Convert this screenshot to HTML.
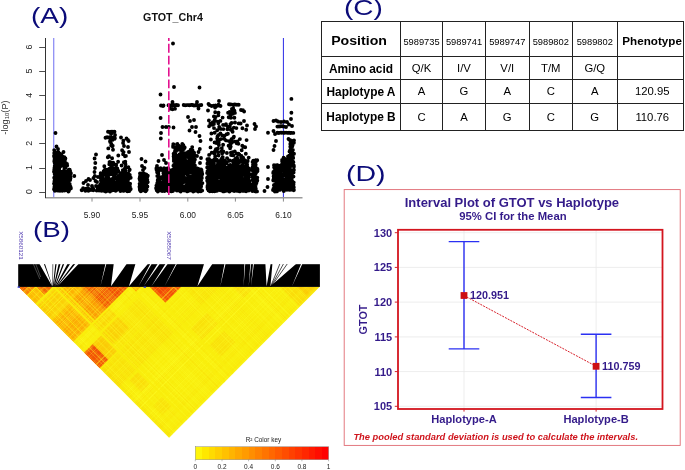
<!DOCTYPE html>
<html lang="en">
<head>
<meta charset="utf-8">
<title>GTOT Chr4 association, LD heatmap, haplotypes and interval plot</title>
<style>
html,body{margin:0;padding:0;background:#fff;}
body{width:685px;height:470px;position:relative;overflow:hidden;font-family:"Liberation Sans",sans-serif;color:#000;}
svg{position:absolute;left:0;top:0;}
svg text{font-family:"Liberation Sans",sans-serif;}
.lbl{position:absolute;font-family:"Liberation Sans",sans-serif;font-size:22.4px;line-height:22px;color:#0b0b78;white-space:nowrap;transform-origin:0 0;}
#lA{left:31px;top:4.8px;transform:scale(1.245,1);}
#lB{left:33.1px;top:218.8px;transform:scale(1.24,1);}
#lC{left:344.3px;top:-3px;transform:scale(1.25,1);}
#lD{left:345.5px;top:163px;transform:scale(1.275,1);}
table{position:absolute;left:321px;top:21px;border-collapse:collapse;table-layout:fixed;width:362px;}
td{border:1.1px solid #222;padding:0;text-align:center;vertical-align:middle;font-size:11.3px;white-space:nowrap;overflow:hidden;}
td.h{font-weight:bold;font-size:11.9px;}
td.n{font-size:9.3px;padding-top:6px;}
td span{display:inline-block;}
tr.r2 td.h{padding-top:2px;}
td:last-child{padding-left:4px;}
</style>
</head>
<body>
<svg width="685" height="470" viewBox="0 0 685 470">
<g id="panelA">
<path d="M45 197.8H302.5" fill="none" stroke="#9a9a9a" stroke-width="1.4"/>
<path d="M45.5 38V198" fill="none" stroke="#333" stroke-width="1"/>
<path d="M39.2 192.5H45.5M39.2 168.5H45.5M39.2 143.5H45.5M39.2 119.5H45.5M39.2 95.5H45.5M39.2 71.5H45.5M39.2 47.5H45.5" fill="none" stroke="#3a3a3a" stroke-width="0.9"/>
<path d="M92.0 197.8V201.6M140.0 197.8V201.6M187.8 197.8V201.6M235.4 197.8V201.6M283.4 197.8V201.6" fill="none" stroke="#8a8a8a" stroke-width="1"/>
<path d="M53.7 38V197" stroke="#8f8ff5" stroke-width="1.3"/>
<path d="M283.4 38V197" stroke="#2a2ae6" stroke-width="1"/>
<path d="M56.3 184h0M58.6 187.9h0M57.8 175.3h0M54.4 168.1h0M54.3 171.2h0M54.5 186.6h0M57 157.1h0M54.9 180.5h0M58.4 153.8h0M58 174.2h0M60.8 189.2h0M60 179.1h0M55 185.4h0M56.2 156.9h0M55.3 165.5h0M58.5 175.3h0M57.8 188.3h0M54.4 181.2h0M58.8 173.3h0M56.2 165.9h0M57.2 177.8h0M59.6 163.6h0M55.7 166.1h0M57.7 155.9h0M59.1 178.9h0M60.9 186.1h0M56.9 159.7h0M55.1 169.2h0M54.3 161.4h0M59.4 168.1h0M60.1 178.2h0M58.9 167h0M58.1 171.9h0M59.9 155.2h0M57.3 163.5h0M54.4 160.2h0M58.5 152.3h0M59.8 179.2h0M56.7 162.9h0M54.2 169.9h0M55.2 185.4h0M54.4 157.5h0M54.9 179.4h0M56.7 155.3h0M54.6 170.6h0M57.8 155.7h0M59.7 157.9h0M55.9 172.6h0M56.5 154.6h0M60.7 184.8h0M55.2 180.2h0M55.6 169.6h0M58.1 179.6h0M54 171.7h0M56.6 166.9h0M60.7 164.7h0M57.6 165.4h0M58.7 188.8h0M60.3 161.3h0M60.1 160.5h0M56.7 173.6h0M54.7 163.1h0M54.4 187.8h0M55.5 183.4h0M56.4 188.7h0M54 183.6h0M54.7 174.3h0M54.2 153.1h0M58.3 184.5h0M55.8 175.4h0M56.5 185.3h0M59.9 153.6h0M57.3 170.4h0M54.6 186.1h0M56.4 179.1h0M59.8 184.2h0M54.2 150.1h0M57.7 184.4h0M57.8 190h0M57.7 152.1h0M60 164.1h0M55.8 174.6h0M55.2 157.9h0M57.7 159.5h0M56.3 180.8h0M59.7 153.6h0M60 160.1h0M59.7 162.3h0M55.6 168.3h0M56.5 189.9h0M54.2 177.8h0M55.8 161.4h0M60.7 173.4h0M60.6 154.3h0M60.7 176.4h0M55.5 180.5h0M55.4 181.5h0M58.4 155.5h0M59.9 171.8h0M58.6 159.3h0M54.6 161.9h0M60.4 161.2h0M59.3 171.6h0M55.2 157.3h0M56.3 157.6h0M60.8 175.3h0M56.8 152.5h0M59.1 183.7h0M54.9 183.8h0M60.3 160.4h0M55 155.6h0M60.9 165.9h0M56.5 167.5h0M54.9 190.7h0M60.8 166.2h0M57.7 153.7h0M57 155.5h0M59.8 182.1h0M55.8 177.7h0M55.7 165.6h0M55.8 172.4h0M54.9 152.3h0M56.5 171.1h0M58.1 155.1h0M56.9 153.7h0M57.5 168.7h0M57.7 190.5h0M57.1 182.7h0M54 156h0M55.2 169.9h0M59.1 168.6h0M56.3 168.6h0M57.9 159.4h0M54.7 166.1h0M55.7 178.4h0M59.4 170.6h0M57.9 160.3h0M60.4 173.4h0M58.3 170.1h0M57.6 162.6h0M63.3 171.3h0M63.4 157.8h0M64.5 160.7h0M65.7 181.5h0M63.8 158h0M65.2 185.9h0M61.6 173.8h0M61.4 181.2h0M61.4 165.6h0M64.9 160.3h0M61.8 164.2h0M64.3 185.5h0M65.4 158.5h0M62.1 156.5h0M63 172.7h0M65.9 163.1h0M61.8 174.3h0M63.6 178.2h0M62 178.5h0M64.6 190.6h0M63.8 174.7h0M61.1 177.7h0M64.1 172.4h0M61.3 154.8h0M64.9 158h0M61.5 180.3h0M61.2 161.7h0M62.4 185.8h0M63.1 158.6h0M65.1 181.4h0M61.7 157.3h0M63.9 166h0M61.4 188.7h0M64.4 175.5h0M61.4 156.4h0M64.2 162.9h0M61.4 159.2h0M61.3 158.9h0M63.3 178.1h0M63.8 158.6h0M62.3 185.8h0M63.6 181.8h0M61.5 184.4h0M61.3 182.7h0M62.6 179.1h0M64.8 180.3h0M63.5 184.1h0M62.7 190.6h0M62.3 190.7h0M64.7 171.3h0M61.9 172.8h0M65.7 187.1h0M65.1 175.5h0M63.5 161.3h0M63 172.1h0M64.4 157.3h0M62.7 160.9h0M64.5 168.5h0M63 177.7h0M61.3 185.6h0M61.4 163.1h0M62.3 184.4h0M61.4 159.7h0M65.4 167.8h0M62.4 181.4h0M62.5 173.5h0M61.8 173.7h0M62.3 156.3h0M65.9 172h0M62.2 156.1h0M62.5 177.2h0M61 175.8h0M63.4 172.4h0M62 171.7h0M61 180.3h0M61.4 175.3h0M61.2 190.4h0M62.5 181.8h0M63.9 171.7h0M64.8 167.9h0M69.6 171.4h0M67.9 181.8h0M70.9 188.1h0M69.6 176.4h0M66.2 165.2h0M70.5 178.2h0M69.7 173h0M66.7 174.9h0M68.5 170.1h0M70 173.5h0M68.9 169.7h0M69.4 175h0M67.1 190.3h0M66.7 179.6h0M66.5 165.8h0M68.8 175.4h0M69.1 174.8h0M68.4 191.5h0M70 174.9h0M68.5 177.2h0M69.3 189.6h0M69.7 185.1h0M66.4 182.3h0M69.6 186.2h0M69.7 169.7h0M68.5 180.9h0M68.4 173.4h0M69.8 177.3h0M69.2 189.2h0M66.7 182.9h0M69.7 184h0M68.8 191.1h0M66.3 182.1h0M69.4 174.9h0M69.4 184h0M68.6 179h0M68.3 187.8h0M70.5 186.8h0M70.9 173.3h0M66.1 176h0M70.1 170.9h0M68.2 183.6h0M67 164h0M67.1 173.8h0M66.7 174.9h0M70.8 188.4h0M70.1 180h0M70.4 176.7h0M67.2 165.5h0M68.4 190.7h0M66 174.9h0M68.3 182.8h0M56.3 186.4h0M59.1 189.9h0M54 189.3h0M67.4 184.8h0M68.8 189h0M68.4 186h0M60 186.8h0M70 188.1h0M59.8 187h0M58.4 184.3h0M55.6 189.8h0M58.6 190.5h0M58 185.9h0M62.2 185.3h0M60 190.7h0M68.1 189.7h0M64.1 190.4h0M69.1 187.8h0M65.5 184.3h0M65.7 187.2h0M66 188.5h0M58.6 184.3h0M68.8 184.9h0M61.6 186.4h0M58.8 189.2h0M69.6 185.8h0M64.5 186.1h0M62.9 186.8h0M56.7 185.1h0M57.3 190.3h0M62 185.5h0M68.5 191h0M61.2 185h0M57.1 184.6h0M59.5 184.6h0M57.8 185.8h0M63.1 190.2h0M66 186.9h0M60.6 187.7h0M60 186.4h0M55 185.9h0M69.5 184.9h0M62.1 188.4h0M67.8 185.5h0M55.5 133h0M74.3 176h0M56.5 146.5h0M58 149h0M63.5 152h0M86.1 188.7h0M88.6 189.3h0M99.1 190.5h0M97.6 188.1h0M81.6 190.1h0M98 189.4h0M92.2 188h0M88.4 190.8h0M96.7 190.6h0M99.5 188.7h0M83.1 188.5h0M90.9 190h0M98.9 190.2h0M93.3 190.3h0M89.7 189.7h0M81.8 190.3h0M85.4 190.8h0M93.3 188.9h0M83.4 188.8h0M93.1 190.1h0M83.1 188.2h0M91 189.7h0M88.4 188.7h0M92.4 188h0M83.5 183h0M86 181h0M88 185h0M90 180h0M93.5 178h0M94.5 172h0M95 168h0M95.3 163h0M94.6 158.5h0M96 154.5h0M97 182h0M98 177h0M99 186h0M92 186h0M88.5 179h0M96 186h0M94.8 176h0M95.5 181h0M109.7 182.1h0M129.7 176.4h0M127.5 182.9h0M107.7 186.7h0M129.8 175h0M109.9 191.1h0M115.7 178.5h0M113.3 186.1h0M120.9 175.2h0M107.4 190.8h0M110.8 181.6h0M121.3 187.8h0M124.8 174.4h0M115.9 187.2h0M130.1 183.8h0M125.5 186.4h0M107.3 176.7h0M109.5 173.2h0M115.6 187.8h0M107.3 183.2h0M120.8 174.8h0M105 181.9h0M107 172h0M104.8 190.2h0M102.3 184.3h0M127.9 175.4h0M122.8 170.1h0M128.9 184.3h0M106.2 170.5h0M123.3 190.7h0M120.8 184.6h0M111.9 183.4h0M105.7 191.5h0M109 184.9h0M129.6 188.5h0M129.9 186.4h0M111.4 172h0M125.6 182.2h0M102 182.9h0M111.9 170h0M106.4 183.2h0M127.9 190.9h0M113 174.5h0M123.9 190.5h0M101.6 190.3h0M128.6 186.1h0M123.3 171.1h0M110.8 184.9h0M129.7 177.1h0M108.5 178.8h0M110.2 185.4h0M100.6 176h0M128.5 178.9h0M129.3 191h0M107.6 182.5h0M129.7 169.7h0M112.3 185.5h0M113.6 181.8h0M128.8 187.5h0M125 174.7h0M125.6 175.3h0M119 184.1h0M110.2 183.4h0M124.4 189.5h0M106.5 175.2h0M108 190.3h0M101.5 181.3h0M110.4 170h0M127.4 174.1h0M108.6 189.9h0M103.4 181.3h0M122.1 182.5h0M107.6 183.6h0M119.4 177.5h0M123.3 172.2h0M120.8 189.2h0M126.1 185.6h0M117.8 182.4h0M123 186.8h0M108 186.9h0M105.2 170.6h0M118.1 183.5h0M112.6 169.7h0M116 186.7h0M125.2 176.9h0M130.7 188.9h0M115 176.9h0M126.1 173.9h0M101.7 186h0M104.1 187.1h0M130.2 177.5h0M128.9 183.5h0M126.9 183.3h0M108.4 177.7h0M129.3 189h0M118.7 177.3h0M107.1 184h0M104.8 186.4h0M108.3 180.8h0M120.4 187.6h0M100.8 184.8h0M121.2 188h0M110 187h0M124.8 178.6h0M102.4 189.6h0M112.6 179h0M120 189.7h0M105.5 175h0M113 185.3h0M109.9 172.1h0M110 179.5h0M111.4 181.3h0M126.9 173.8h0M111.6 186.6h0M122.7 186.9h0M100.7 173.3h0M113.4 175.3h0M112.9 172.8h0M114.6 188.5h0M101 180.6h0M120 174.5h0M103.2 179.3h0M111.8 179.3h0M104.9 184.5h0M116.4 172h0M103.8 180.9h0M125 170h0M106.5 188.6h0M129.3 170.2h0M115.2 190.5h0M128.7 183.3h0M128.1 179.8h0M125.6 188h0M124.5 186h0M112.8 173.4h0M125.8 187.6h0M107.2 183.4h0M116.3 183.2h0M104.3 185.7h0M122.6 172.8h0M101.8 181.3h0M123.6 190.6h0M126.1 189.1h0M118.8 179h0M119.6 185.1h0M113.3 179.7h0M113.5 178.5h0M114.1 183.4h0M101.2 179.7h0M115.4 186.9h0M123.8 173.1h0M114.5 188.1h0M114.9 189.5h0M104.4 181.4h0M103.3 182.6h0M116.1 190.6h0M119.9 189.8h0M122.9 174.6h0M116.1 190.3h0M115.9 183.9h0M129.5 188.2h0M126.6 173.6h0M122.8 173.9h0M106.4 170.2h0M115.5 173.8h0M128.4 188.1h0M124.5 169.8h0M102.5 185h0M123.6 187.6h0M127.8 186.3h0M125.4 188.2h0M115.8 173.7h0M106.9 185.8h0M115.9 184.9h0M101.6 188h0M105.4 169.5h0M121.2 175.6h0M105.6 173h0M104 179.8h0M119.9 184.4h0M127.1 181.5h0M118.2 170.8h0M103.7 171.1h0M119.7 183.5h0M124.8 185.1h0M130.7 177.7h0M111.5 173.3h0M114 188.1h0M123.2 190.3h0M125.5 185.9h0M120 173h0M118.4 175.9h0M110 191.5h0M101.5 188.6h0M119.3 182.2h0M116.1 173.3h0M104.5 186h0M120.4 191.1h0M100.6 184h0M103.7 183.8h0M107.3 180.2h0M118.5 186.5h0M119.5 181.7h0M104.6 170h0M107.9 188.7h0M103.4 178.6h0M127.1 177.6h0M112.8 185.5h0M100.9 178.6h0M117.7 182.9h0M120.2 183.1h0M129.1 175.6h0M108.1 175.5h0M101.8 181.9h0M112.9 186.2h0M102.3 177.7h0M100.9 180.5h0M129.2 188.2h0M106.6 178.3h0M116 178.6h0M125.3 187.5h0M109.9 185h0M102 175.8h0M124.4 174.5h0M100.7 174.5h0M123.2 180.7h0M123.1 181.1h0M107.4 189.4h0M107.6 190.8h0M110.7 174.3h0M121.7 175.9h0M122.2 186h0M117.4 181h0M124.5 179h0M108.6 180h0M129.9 186.1h0M127.3 191.3h0M108.4 187.1h0M123.2 170.3h0M123.3 183.8h0M127.3 185.5h0M107.8 175.1h0M119.7 177.8h0M120.8 174.3h0M114.8 176.7h0M121.8 175.6h0M113.8 177.9h0M117.9 183.9h0M107 178.8h0M102.9 174.7h0M104.9 190.8h0M103.8 172.2h0M111 188h0M101.4 190.7h0M121.6 179.8h0M121.8 177.7h0M102.5 180.8h0M111.6 172.1h0M125.5 172.7h0M102.5 176h0M128.4 173.2h0M103.8 187h0M103.9 190.7h0M126.4 176.3h0M119.8 175.6h0M119.8 185.6h0M103.5 189.4h0M123.6 186.4h0M110.2 182.1h0M101.1 186.4h0M109.5 189h0M112 186.2h0M129.9 187.5h0M126.5 188.3h0M101.9 186.9h0M114.1 189.4h0M111.4 188.9h0M117.1 185.5h0M126.9 184.6h0M125.6 185.2h0M101 185.4h0M123.9 190.8h0M101.1 187.4h0M115.7 189.6h0M106.5 187.5h0M111.4 189.8h0M108.8 190.6h0M109.5 185.5h0M122 187.5h0M104.3 188.5h0M103.4 189.5h0M121.9 189.5h0M119.8 186.5h0M113 186.8h0M127.7 184.6h0M127.7 184.2h0M107.2 185.8h0M128 187.5h0M112.4 190.2h0M108 187.2h0M116.9 189.3h0M123.6 188.5h0M111.5 186.3h0M105.7 189.9h0M120.9 189.2h0M106.1 187.1h0M124.2 188.1h0M104.8 187.2h0M127.6 185.7h0M106.7 186.1h0M122.1 189.9h0M105.6 185.1h0M108.4 186.3h0M116.7 185.1h0M110.8 185.3h0M130.3 189.1h0M104.1 190.7h0M104 186.7h0M130.5 189.6h0M123 187h0M106.9 188.5h0M104.2 185.4h0M112.7 184.2h0M113 189.5h0M121.8 187.5h0M120 187.2h0M105.3 188.2h0M113.1 189.2h0M128.2 187h0M118.2 189.2h0M113.6 185.6h0M122.7 190.2h0M124.2 188.9h0M126.6 188.8h0M120.2 187.2h0M110.4 188.4h0M103.9 186.9h0M124.5 189h0M119.9 185.8h0M113.7 187.2h0M119.6 186.9h0M121.3 190.5h0M106.5 188.6h0M124.3 186.7h0M115.7 190.8h0M102.1 187.8h0M105.8 189.5h0M129.2 187.6h0M104 188h0M117.2 189h0M117.3 168.4h0M125.6 167.2h0M114.7 171.5h0M109.5 168.8h0M114.2 169.6h0M107.2 171.8h0M113.2 162.6h0M111.1 166h0M104.3 166.2h0M114.9 169h0M113.2 164.7h0M109.8 169.4h0M128.4 167.3h0M109.7 170h0M114.2 164.1h0M107.4 169.8h0M125 168.3h0M116.2 167.6h0M109.9 171.6h0M113.2 168.4h0M125.3 170.2h0M116.2 164.9h0M110.5 162.2h0M111.2 145.4h0M112.4 146.2h0M110.2 141.9h0M110.4 133.1h0M112.1 158.3h0M111.2 143.6h0M113 149.8h0M108.9 156.1h0M112.7 145.7h0M115 135h0M109.8 162h0M114.4 137.9h0M109.5 162.1h0M111.3 133.4h0M111.2 166.3h0M110.7 136.6h0M110.2 138h0M111.9 145.1h0M114.9 138.3h0M114.4 138.9h0M109.5 164.2h0M108.8 156.4h0M109.3 164.3h0M112.4 139.9h0M107.8 157.2h0M108.3 148.4h0M110.9 163.9h0M110 141.2h0M111 137.9h0M123.4 140.6h0M123.1 142.9h0M123.4 152.5h0M123.9 162.3h0M118.1 161.7h0M123.1 154.2h0M125.3 161.7h0M122.1 150.3h0M128.6 141h0M125 156.2h0M118.3 155.5h0M125.5 164.2h0M121.6 165.5h0M123.6 152.1h0M127.9 139.9h0M125.9 155.9h0M108 131.7h0M109.6 132h0M111.2 131.7h0M112.9 131.8h0M114.5 131.8h0M105.5 137.7h0M107.1 137.3h0M108.8 137.5h0M110.4 137.5h0M112 137.5h0M121 137.5h0M126.5 138.5h0M124 146h0M128 147h0M129 152h0M146.5 185.4h0M146.5 183.4h0M143.8 185.8h0M143.8 173.4h0M145.1 176.5h0M142.3 185h0M142 180.1h0M144.9 176.7h0M139.8 177.7h0M147 180.8h0M139.9 185.3h0M139.6 187.4h0M147.3 179.7h0M145.1 176.6h0M147.2 179.6h0M144.7 179.4h0M145.4 179.9h0M145.3 187h0M145.2 182.4h0M146 189.2h0M141 190.6h0M146.1 174.4h0M145.1 184h0M146.5 176.6h0M144.3 186.1h0M142.1 183h0M142.2 182.9h0M145 174.1h0M140 180.4h0M139.8 188.9h0M146.4 180.3h0M147.3 182.6h0M139.6 183.7h0M144.5 174h0M147.8 182.1h0M143 189.2h0M145 187h0M140.8 191.2h0M139.5 178.4h0M140.5 173.6h0M140.2 175.2h0M140.6 191.1h0M145.6 186.4h0M145.7 187.5h0M139.9 176.8h0M145.6 175.4h0M145.7 189.6h0M144.8 177.9h0M143.4 174.1h0M141.7 173.6h0M145.6 191.3h0M139.6 179h0M146.4 189.7h0M142.1 177.6h0M140.9 175.3h0M143.6 190.1h0M142.6 180.3h0M143.2 178.5h0M140.7 176.4h0M142.6 179.1h0M144.9 183.1h0M142.8 176.6h0M147.5 176.6h0M144.3 185.4h0M140 173.4h0M145.5 175.9h0M142.3 179.8h0M147.8 175.8h0M144.6 186.9h0M143.1 190.3h0M142.7 189.1h0M144.6 190.4h0M146.4 186.7h0M139.5 186.6h0M143.1 188.5h0M146.4 190.3h0M139.9 190h0M146.4 190.2h0M144.4 186.6h0M146.7 189.8h0M145.3 190.5h0M142.4 185.5h0M144.2 189.8h0M141.2 189.5h0M147.4 186.4h0M144.7 189.1h0M143.5 186.2h0M141.7 189.5h0M141.5 159h0M145.5 161.5h0M142 166h0M144.5 168h0M143 170h0M165.9 179.9h0M157.1 172.2h0M165.7 185.2h0M163.2 170.2h0M167.1 178.5h0M162 176.9h0M158.4 186.2h0M158.3 174.5h0M160.5 177.5h0M161 178.6h0M157.9 190.2h0M168.5 181.9h0M157.3 176h0M165.8 187.2h0M163.5 182.5h0M162.5 190.9h0M156.4 168.2h0M166.8 179.3h0M163.1 184.5h0M165.7 180.7h0M167.8 173h0M166.2 168.8h0M159.2 190.4h0M158.5 186.5h0M157 190h0M163 170.8h0M161.7 169.1h0M167.4 189.6h0M163.5 181.3h0M157.5 168.9h0M159.2 177.5h0M164 168.9h0M164.4 181.4h0M161.6 187.1h0M168.1 168.2h0M158.8 190.3h0M159.2 182.4h0M167.3 170h0M166.5 190.1h0M165.8 174.3h0M164.1 168.3h0M156.7 187.5h0M165.4 169.3h0M164.5 183.6h0M163.4 173.2h0M157.3 183h0M159.2 188h0M162 186.8h0M159 187.5h0M164.5 191.1h0M165 186.2h0M156.5 169.5h0M158.8 169.4h0M166.8 170.4h0M157.7 180.2h0M157.2 169.5h0M166.5 176.1h0M161.7 182.7h0M166.3 179.5h0M163.9 187.5h0M158.8 189.8h0M164.9 177.7h0M157.8 170.8h0M159.3 181h0M157.9 184.3h0M166.5 182.8h0M158.1 179.2h0M160 170.1h0M157.4 168.5h0M156.7 170.2h0M164.4 185.8h0M162 183.9h0M159.2 186h0M160.6 168.2h0M168.5 169.6h0M157.2 183.9h0M167.2 189.8h0M165.1 183.8h0M168.2 191h0M166.1 182.6h0M157.8 191.5h0M166.4 178.3h0M158.3 180.4h0M167.4 185.6h0M163.1 187.6h0M158.3 172.9h0M164.9 186.1h0M157 189h0M163.6 179.1h0M159.4 185.9h0M163.7 174.3h0M166.1 177.1h0M158.5 189.6h0M165.2 181.1h0M165 189.9h0M166.1 182.8h0M166.5 170.9h0M162.2 191h0M167.4 179.5h0M166.9 184.4h0M158.2 190h0M160.4 186h0M160.5 188.6h0M156.1 188.1h0M161.3 188.1h0M157.4 189.3h0M165.8 190.2h0M159.9 189.3h0M160.6 189.5h0M156.7 190.2h0M167.4 188h0M162.2 188.2h0M162.4 185.1h0M167.6 186.3h0M158.2 185.6h0M159 189.9h0M156.4 185.6h0M164.4 186.2h0M156.2 188.6h0M162.9 188.1h0M164.4 185.6h0M166.4 189.3h0M156.5 185.7h0M161.9 188h0M159.4 185.7h0M160.9 185.8h0M163.1 190.2h0M157.8 188.4h0M160.5 94.5h0M161 105.5h0M163 106h0M160.6 118h0M162.5 127h0M166 127h0M161 133h0M160.8 138.5h0M162 155h0M158.5 161h0M164 160h0M163.5 105.5h0M166 163h0M157 166h0M194 187.4h0M196.7 169.4h0M182 181.2h0M197.1 178.8h0M182.3 169.3h0M195 183.2h0M177.1 183.2h0M183.6 168.4h0M195.9 170h0M196.3 171.4h0M170.8 179h0M201.1 169.5h0M177.4 181.2h0M190.2 182.6h0M186.8 189.7h0M183.5 179.3h0M169.7 188h0M201.5 173h0M200.4 176.3h0M196.1 170.6h0M198.6 190.6h0M190.5 184.9h0M191.7 184.7h0M187.2 169.7h0M189.8 185.3h0M186.4 180.9h0M200.9 184.4h0M179.2 176h0M173 177.2h0M201 179.1h0M178 180.2h0M186.9 187.7h0M173.2 188.2h0M178.8 181.6h0M178.7 185.4h0M171.9 178.3h0M197.1 176.8h0M188.1 175.9h0M175.7 174.5h0M184.4 178.3h0M189.5 180.1h0M179.4 185.5h0M176.4 179.1h0M181.8 177.4h0M169.4 182.8h0M197.9 185.6h0M187.6 179.6h0M178.5 168.3h0M178.9 173.1h0M174.3 189.8h0M198.2 180.8h0M171.1 182h0M183.7 174h0M172.7 185.9h0M201.1 173.9h0M174.2 183.2h0M180.8 175.3h0M189.6 171.4h0M196.5 179h0M193.7 173.8h0M194.4 180h0M195.3 174.6h0M199.6 188.3h0M198.2 191.5h0M194.7 177.4h0M185.7 168.8h0M188.2 181.3h0M195.3 170.9h0M189.3 182.2h0M184.2 180.4h0M193.2 184.2h0M182.1 178.1h0M181.9 183.6h0M195.4 171.4h0M185.7 180.7h0M175.2 184h0M173.9 177.6h0M188.5 189.3h0M199.8 183.5h0M197.3 171.6h0M201.1 186.4h0M183.3 170h0M169.4 190.3h0M187.9 179.4h0M199.8 173.1h0M187 168h0M186.3 179h0M192 182h0M181 177.2h0M180.8 169.2h0M191.7 178.8h0M172.3 182.3h0M182.4 178h0M188.2 170.7h0M201.3 179.7h0M183.7 176.5h0M202.4 183.1h0M186.8 172.1h0M174.7 183.7h0M201.8 171.9h0M186.2 188.7h0M199 175h0M196.5 168.2h0M198.8 181.2h0M174.2 184.3h0M186.1 179.3h0M175.3 186.9h0M190.1 177h0M180.8 168.1h0M190.3 190.4h0M182.8 172.8h0M179.3 175h0M169.1 184h0M197.2 177.4h0M191.4 186.6h0M185.7 178.2h0M177.9 176h0M186.8 168.1h0M188.2 181.5h0M173.1 187.5h0M194.4 188.8h0M172.4 187.2h0M186.5 172h0M189.5 172.4h0M171.1 191.2h0M194.8 183.5h0M193 182.8h0M174.7 184.9h0M172.3 170.2h0M188.5 182.9h0M184.1 182.1h0M170.8 170.5h0M188.5 168.9h0M183.7 176.6h0M177.4 190.4h0M200.2 171.3h0M179.5 170.3h0M196.3 184h0M189.2 168.9h0M185.6 169.1h0M177.1 182h0M193.1 186h0M179.4 170.8h0M185.2 172.7h0M177.2 187.1h0M181 186.8h0M201.5 184.3h0M187.8 188.6h0M186.9 182.1h0M182.5 189.8h0M173.1 171.9h0M180.8 185.4h0M175.4 184.5h0M176.9 190.6h0M191.3 183.1h0M174.2 174.6h0M172.1 184.8h0M197 188.3h0M183.9 171.7h0M196 187.5h0M180.8 174.3h0M181.6 168.9h0M176 169.1h0M185.9 185.8h0M184.2 188.2h0M192.7 185h0M199.1 177.4h0M181.3 185.4h0M189.4 186.2h0M198.2 188.4h0M186.2 178.4h0M178.1 173.1h0M181.9 175.8h0M188 183.8h0M182.1 189.3h0M174.9 171.4h0M179.8 175.6h0M172.7 177.9h0M181.1 179.4h0M178.9 189.8h0M179.4 185.8h0M173.2 174.4h0M178.5 181.6h0M199.4 173.1h0M198.6 171.1h0M173.4 184.6h0M170 175.2h0M191.2 182.9h0M182.8 175.7h0M192.4 185.3h0M197.4 182.8h0M190.1 186.9h0M172.9 170h0M193.6 174.5h0M170.4 190.5h0M174.4 186.5h0M179.2 182.2h0M170.3 183.8h0M190.4 187h0M197.1 177.8h0M193 185.2h0M183.6 175.1h0M180.7 191.6h0M196.9 173h0M178.6 190.4h0M197.6 176.9h0M170.6 185.4h0M172.7 172.7h0M176 169.9h0M194.1 189.3h0M192.3 181.9h0M194 171.9h0M178.4 189.2h0M200.7 181.2h0M200.2 175h0M193.7 171.8h0M190 180.5h0M170.8 174.8h0M183.3 179.1h0M200.1 188.3h0M194.5 190.4h0M192.5 172.4h0M177.8 178.3h0M201.5 176.2h0M187.2 185.3h0M171 182.7h0M182.8 186.5h0M179.4 188h0M192.7 175.5h0M177 185.5h0M186.3 180.7h0M200.4 182.9h0M179 170.6h0M173.8 177.9h0M180.2 172.2h0M187.4 173.4h0M174.7 175.5h0M189.1 180.3h0M194.7 171.8h0M172.8 184.3h0M181.1 186.3h0M171 184.5h0M175.6 174.7h0M184 188.6h0M179.9 180.1h0M181.2 187.3h0M171.4 191.3h0M202.2 173.6h0M171.8 174.4h0M201.8 177.9h0M172.6 179.6h0M183.5 186.7h0M187.2 191.4h0M199.8 176.1h0M190 169.5h0M190.9 185.2h0M177.2 188h0M169.9 173.1h0M197.1 184.2h0M175.2 176.2h0M197.3 169.6h0M174.6 172.9h0M196.8 173.8h0M179.9 186.9h0M196.6 183.6h0M181.3 178.2h0M181.4 171.8h0M177 190.5h0M188 176.4h0M196.5 174.7h0M199.3 169.2h0M185.6 179.4h0M174.3 184.1h0M188.5 189.5h0M192 187.4h0M183.8 168.7h0M172 190.5h0M183.7 186.7h0M193.2 191.5h0M197.2 171.3h0M195.4 181.1h0M178.5 175.7h0M186.2 181.2h0M180.3 180.8h0M191.3 171.9h0M199.3 187.4h0M178.9 180.7h0M187.9 182.9h0M175.5 189.3h0M179.8 180.3h0M201.5 170.1h0M198 168.6h0M201.2 176.6h0M196.2 190h0M191.7 176.9h0M179 177.7h0M200.9 179.8h0M190.7 184.1h0M180.5 170.6h0M169.9 186.8h0M191.7 180.6h0M171.9 175.7h0M181.5 177.5h0M182.9 178.7h0M187.9 181.8h0M172.8 187h0M198.8 178.3h0M172.8 171.1h0M177.5 189.1h0M186.8 185.2h0M185.4 178.1h0M176.6 177.7h0M172.8 179.1h0M188.7 189.5h0M182.7 189.6h0M183.7 171.1h0M187.4 174.4h0M194.4 188.6h0M202.2 174.3h0M172.4 171.8h0M182.1 187.2h0M201.2 177.9h0M195 188h0M195 190h0M176.9 182.4h0M169.5 177.2h0M176.1 184.1h0M192.7 181.1h0M198.8 176.6h0M198.2 177.9h0M199.7 170.9h0M174.6 173.7h0M180.4 173.3h0M191.8 171.9h0M173.1 182.4h0M193.7 169.2h0M193.2 190.4h0M189.2 189h0M187.4 172.4h0M172.8 169.7h0M191.6 185.2h0M175.5 180.6h0M197.1 177.5h0M172.8 191h0M172.7 172.5h0M175.2 178.1h0M178.7 175.1h0M181.8 187.8h0M198.3 178.5h0M192.1 172.3h0M200.8 191.2h0M180.5 187.7h0M185.8 170.9h0M195.8 190.6h0M175.1 172.1h0M191.8 181.9h0M184.9 187.5h0M197.3 181.9h0M198.2 176.8h0M171.5 183.4h0M176.2 170.4h0M188.7 190.4h0M174.7 182.6h0M184.7 177.6h0M182 182.8h0M169.2 177.6h0M180.2 191h0M184.4 168.3h0M170.5 187.8h0M191.5 184.7h0M178.2 179.4h0M177.8 177.8h0M186.7 169h0M202.2 190.6h0M187.8 173.2h0M198.2 173.1h0M190.2 176.3h0M181.2 184.5h0M195.6 170.9h0M200.4 175.2h0M177.1 149.9h0M183 156.3h0M181.6 160.5h0M180.4 160.2h0M173.8 160.9h0M177.4 143.9h0M179.5 160.9h0M176.3 163.6h0M177.7 165.5h0M173.1 146.9h0M179.1 158.9h0M180.7 162.3h0M175.3 167.6h0M177.1 161.3h0M182.8 155.1h0M185.7 161.4h0M185.4 156.2h0M174.1 164.8h0M180.8 146.8h0M177.8 149.3h0M178.8 148.5h0M173.9 157.5h0M185.1 163h0M176.5 168.5h0M175.2 163.2h0M182.5 163.4h0M178.4 164.1h0M181.1 148.9h0M181.7 164.1h0M182.9 144.8h0M181.1 167.2h0M183.9 149h0M177.6 165.5h0M175.5 157.4h0M184.8 155.2h0M185.5 164.3h0M177.4 149.9h0M181.8 159h0M182.2 160.4h0M173.8 159h0M173.6 153.7h0M177.5 156.4h0M181.1 163.1h0M179.3 168.7h0M185.5 156.5h0M186.3 167.6h0M181.3 151.9h0M177.4 166.6h0M175.1 165.9h0M183.4 166.8h0M184 159.4h0M180.3 156.3h0M180.5 154.6h0M181.1 161.3h0M183 162.6h0M182.6 149.6h0M183.5 161.6h0M183.4 145.5h0M179.1 162.7h0M180.1 148.8h0M174.8 168.8h0M179.4 154.5h0M183.5 160.3h0M186.4 163.5h0M183.2 166.8h0M173.4 165.7h0M173.8 157h0M180.5 165h0M185.7 160.8h0M175 165.2h0M183 145.9h0M175.2 168.4h0M183.5 163.2h0M186.3 157h0M181.6 160.6h0M183.8 158.4h0M177.4 146.1h0M174.5 152.6h0M173.9 153.6h0M178.4 147.8h0M173.8 155.5h0M178.5 146.7h0M185.8 154.8h0M176 163.3h0M176.5 158.7h0M176.1 164.4h0M183.2 153.2h0M177 144.2h0M175.9 156.3h0M175.1 150.4h0M184.7 163.2h0M183.1 148.6h0M176.8 160.9h0M179.6 149.5h0M175.2 154.3h0M181.1 158.6h0M180.8 149.2h0M175.8 149.4h0M177.9 149.2h0M184.7 165.1h0M184.7 147.5h0M177 168.4h0M174.5 147.3h0M173.1 145.9h0M175 153.1h0M174.3 165.2h0M182.2 166.7h0M177.6 145.6h0M182.7 146.6h0M186.2 168.2h0M176.2 150.9h0M182.3 168h0M179.8 164h0M178.8 166.5h0M173.3 144.1h0M177.3 146.8h0M174.6 158.3h0M174.8 159.7h0M175.4 154.2h0M175 153.1h0M179.8 166.6h0M177.8 156.4h0M185.4 161.3h0M175.9 147.5h0M184.9 153.3h0M176.7 164.7h0M176.6 167.4h0M173.6 156.5h0M178.5 155.5h0M177.9 168.7h0M182.3 152.4h0M180.3 157.1h0M182.3 144h0M184.8 153.6h0M178.4 161.2h0M178.7 145.7h0M178.2 159.4h0M178.5 165.5h0M186.5 168.9h0M181.2 147.3h0M189.5 158h0M190.5 164.4h0M189.1 166.8h0M194.2 154.8h0M194.8 168.1h0M193.1 162.3h0M192.7 157.2h0M190 151.3h0M187.5 152.6h0M194.3 159.8h0M192.2 147.1h0M189.4 157.6h0M193.4 161.5h0M193.2 161h0M191.7 155.7h0M192.9 162.2h0M192.5 157.2h0M189.3 157.8h0M189.6 152.6h0M191.3 153.9h0M191.7 158.7h0M189.3 166.4h0M194.9 159.4h0M191.7 157.6h0M194 164.6h0M188.9 153.3h0M191.2 155.7h0M194.1 152.7h0M194.4 168.2h0M190.6 153.1h0M194 166.7h0M188.7 164.1h0M188.3 161.7h0M193.9 159.3h0M191.1 167.2h0M190.7 149.7h0M193.1 159.7h0M191.3 152.2h0M193.6 166.1h0M192.9 161.3h0M191.7 163.9h0M190.5 162.6h0M190.5 168.7h0M189.1 158.4h0M188 165.2h0M193.2 163.4h0M190.1 164.6h0M194.2 167.3h0M192.6 150.4h0M189.1 161.1h0M193.8 157.4h0M190.5 168.2h0M191 161.5h0M193.2 163h0M190.8 156.3h0M194 162.5h0M190.6 157.9h0M194.9 165.5h0M195.3 155.6h0M190.5 156.4h0M190.1 167.7h0M193.5 161.6h0M191.7 158.2h0M194.7 155.3h0M187.7 156.1h0M191.2 159.4h0M194.2 161.5h0M191.3 150.4h0M191 159h0M191.6 151.2h0M192.9 153.3h0M190.7 168.2h0M192.9 157.4h0M193.7 154.2h0M188.4 164.6h0M188.1 151.9h0M173.2 183.7h0M193.4 187.5h0M171.7 188.4h0M192 186.9h0M171.7 188.5h0M183 187.7h0M200.9 189.5h0M197 184.2h0M180.4 187.1h0M170.2 190.9h0M178.5 185.1h0M179.7 185h0M196.6 187.4h0M185.8 186.4h0M171.6 185.4h0M196.9 189.4h0M196.6 185.1h0M176.3 183.4h0M186.6 186h0M184.4 186.9h0M188.1 185.9h0M194.8 184.6h0M198.5 187.4h0M171.6 185.5h0M186.5 186.3h0M187.5 185.6h0M178.5 189.4h0M179 188.7h0M194.9 187.7h0M184.1 190.5h0M183.8 190h0M171.8 186.5h0M189.8 183.4h0M196.7 183.6h0M188.5 184.4h0M198.6 187.5h0M194.8 187h0M190.9 188.4h0M179.1 184.7h0M196 184.2h0M198.5 184.7h0M173.1 183.8h0M194.3 190.6h0M182.9 188.3h0M178 190.2h0M191.3 184.2h0M171.8 188.6h0M171.3 189.7h0M179.1 184.9h0M188 185.5h0M187.4 184.2h0M198.3 185.6h0M196.1 184.2h0M194.8 190.8h0M182.1 183.3h0M181.8 188.1h0M176.9 187.4h0M172.9 186.7h0M192.6 186.4h0M191 183.9h0M195.7 184h0M198.6 191h0M199.1 187.2h0M179 185.8h0M193.3 187h0M198.8 183.7h0M185 189.9h0M188.5 187.3h0M172.7 184.1h0M178.4 190.1h0M196.2 184.8h0M198.7 183.3h0M188.6 190.7h0M180.7 190.6h0M190.4 183.4h0M180.3 186.6h0M177.7 188.9h0M175.5 189.3h0M179.2 183.6h0M187.3 183.8h0M168.5 105.2h0M169.9 105.4h0M171.2 105.3h0M172.6 105.2h0M173.9 104.9h0M175.3 105.2h0M176.6 105h0M178 105.3h0M183.7 105h0M185.2 105.2h0M186.6 105.1h0M188.1 105.1h0M189.6 105.3h0M191 105h0M192.5 105h0M194 105.5h0M195.4 105.1h0M196.9 105.4h0M198.4 105.4h0M199.8 105.2h0M201.3 105h0M170 108.8h0M172.5 109.2h0M175 108.8h0M173 43.5h0M174 87h0M199.5 87.5h0M172.5 102h0M197 102h0M198.5 108.5h0M168.8 127h0M173.5 127.5h0M188 117h0M190 121h0M194 120h0M192 127h0M196 127h0M189.5 130.5h0M195.5 132h0M199.5 136h0M200.5 141h0M199.8 149h0M198.5 152h0M197 156h0M201 158h0M200 163h0M228.1 179.7h0M212 181.1h0M214 179.7h0M228.5 183.3h0M215.4 182.5h0M215.6 188.6h0M217.2 172.6h0M228.3 172.3h0M207.6 171.2h0M227.8 174.3h0M231.2 176.4h0M216.7 175.2h0M213.5 185.5h0M208.3 182.7h0M229 184.9h0M244.8 189.5h0M231.6 186.2h0M232.3 174.5h0M237.2 190.1h0M217.4 178.3h0M248.8 190.6h0M233.3 176.4h0M241.6 183.8h0M241.4 181.2h0M246.1 191.3h0M247 182.3h0M224.3 189.5h0M217.4 175.5h0M235.8 188h0M221.6 188.3h0M215.4 186.5h0M221.1 170.5h0M249.4 174.3h0M227.4 180.5h0M240.1 171.9h0M238.9 177.5h0M215.5 177.8h0M242.9 174.4h0M210.9 175.8h0M221.8 187.8h0M248 176.8h0M238.7 188.4h0M242.2 171.3h0M245.5 175.3h0M242.4 174.1h0M232.1 181.8h0M242.1 174.4h0M244 184.7h0M247.8 179.7h0M247.2 188.8h0M248.2 174.4h0M217.7 173.3h0M216.9 187h0M226.5 186.1h0M227.9 171.9h0M236.1 176h0M223.7 174.5h0M240.7 176.6h0M247 173.6h0M224.3 189.5h0M234.7 173.4h0M221.4 178.4h0M242.5 174.3h0M207.2 180.7h0M207.7 188.9h0M241.5 182.2h0M232.7 181.3h0M221.3 186.6h0M222 173.2h0M233.3 184.9h0M210.7 185.4h0M236.8 181.7h0M235.1 174h0M212.1 176.6h0M208.8 173.7h0M214.8 185.3h0M247.7 183.4h0M216.5 172.3h0M232.9 172.2h0M223.8 180.4h0M247.6 180.3h0M249 187.2h0M242.3 187.8h0M229.4 191.6h0M214.5 171.1h0M226.3 173.9h0M217.7 183.6h0M211.3 179.3h0M243.6 180.1h0M223 171.5h0M245 176.9h0M210.2 177.8h0M225.9 170.9h0M222.4 177h0M233.9 183.1h0M229.2 176.7h0M245.6 180.5h0M222.5 170.5h0M209.4 173.4h0M236.1 179.2h0M226 175.1h0M244.9 175.6h0M238.9 190.7h0M220.8 188.3h0M247.5 172.2h0M213.1 178.6h0M231.5 190.4h0M223.7 175.2h0M234.3 185.1h0M239.4 184.9h0M230.1 182.1h0M248.6 177.3h0M241.2 176.7h0M223.2 170.8h0M237.2 176.4h0M218.8 187.8h0M231.4 173.6h0M240.7 183.7h0M212.9 180.1h0M244.3 187.8h0M238.4 187.6h0M220.3 190.3h0M219.6 182.9h0M248.1 170.8h0M215 184.5h0M247.1 187h0M220.6 181.7h0M211.6 185.6h0M223.7 182.9h0M248 185.4h0M215.7 171.9h0M226.1 173.4h0M234.1 174.6h0M220.4 188h0M239.2 181.1h0M230.7 176.8h0M239 185.3h0M222.4 171.7h0M229.5 185h0M233.8 185.6h0M239.8 190.6h0M242.1 179h0M222 171.2h0M218.3 186h0M210 179.4h0M239 176.7h0M224.5 174h0M211.7 184.6h0M234.4 170.7h0M233.9 176.4h0M239.9 182.7h0M247 175.3h0M221.5 182.7h0M241.2 183.6h0M214.9 172.6h0M229.6 180h0M235.4 172h0M212.7 183.9h0M209.8 182.3h0M228.3 173.1h0M235.4 178.8h0M224.2 178.9h0M218.6 173.2h0M240.5 173.3h0M213.4 176.8h0M239 180.4h0M245.2 172.1h0M238.6 173.7h0M234.6 172.5h0M212.6 176.1h0M236.9 178h0M218.7 189.9h0M232.6 173.6h0M218.6 186.6h0M216.5 189.3h0M235.7 170.5h0M241.1 183.4h0M236.7 189.8h0M242.6 184.2h0M207.1 177.7h0M212.9 185.3h0M209.5 181.6h0M230.6 174h0M208.7 173.6h0M211.7 186.4h0M233.8 183.8h0M221.1 179h0M216.3 174.3h0M215.9 173.3h0M241.4 179.6h0M208.3 174.6h0M208.2 180.3h0M225 190h0M233.8 175.7h0M231.9 182.6h0M228.8 178.5h0M216.6 172.7h0M249.3 174h0M247.9 184.1h0M248.9 189.8h0M227.3 188.4h0M226.3 176.6h0M237.1 181.4h0M221.5 187.1h0M224.1 185.1h0M215.3 175.5h0M228.9 181.7h0M215.4 176.1h0M215.4 185.5h0M230.8 176.2h0M248.4 175.2h0M247.3 171.6h0M237.7 175.8h0M209.7 186.8h0M207.6 172.8h0M237.7 177.7h0M218.2 183.5h0M214 177.6h0M249.1 184.6h0M208.9 187.5h0M222.1 172.1h0M241.2 181.4h0M211.3 189h0M213.5 174.6h0M227 170.2h0M245.7 174.2h0M227.2 173.7h0M212.5 189h0M230.9 180.3h0M215.9 185.8h0M207.9 171.9h0M237.2 171.1h0M248.7 181.8h0M238.1 182.9h0M241.5 173.3h0M212.7 191.3h0M216.1 178.6h0M223.1 191.4h0M242.3 174.4h0M226.7 190.5h0M244.8 179.7h0M210 184.2h0M233.5 172.4h0M227.6 177.5h0M215.7 186h0M245.5 182.9h0M211.4 178.5h0M212.4 186.9h0M226.4 178.6h0M234 176.1h0M225.7 189.9h0M237.8 190.3h0M227 182.6h0M235.6 175.9h0M217.2 177.3h0M236.4 181h0M213 171.9h0M232.5 190h0M217.1 170.3h0M216.7 182.7h0M240.5 173.6h0M233.9 175.3h0M208.6 189.3h0M248.5 174.1h0M208.6 190.4h0M217.2 171.4h0M216.3 176.8h0M246.5 177.5h0M246.1 185.5h0M213.5 191.1h0M239.2 189.1h0M248.4 176h0M214.9 174h0M213.9 180.2h0M211.5 174.4h0M244.8 171.7h0M207.1 173.1h0M230.6 173.7h0M228.4 177.9h0M232.3 174.1h0M210.3 190.2h0M230.2 184.9h0M223.9 191.4h0M238.7 191h0M242.3 173.9h0M226.5 188.7h0M234.6 186.8h0M225.2 188.9h0M248.5 179.4h0M222 189.3h0M238 173.1h0M243.1 189.1h0M222.6 184.7h0M239.4 188.1h0M232.8 170.4h0M239.7 191.4h0M210.2 188.9h0M236.4 178.3h0M229.1 181.4h0M224.3 178.1h0M234.6 171.7h0M238.1 174.2h0M245.8 173.4h0M237.5 190.8h0M235.9 173.1h0M225.3 172.5h0M214.6 171.2h0M225.8 176.1h0M217.7 184.7h0M221.8 184.2h0M211 181.6h0M248.7 177.2h0M246.6 174.9h0M242.6 170.1h0M239 185.3h0M217.6 182.3h0M207.9 186.2h0M244.7 171.6h0M221 174.7h0M239.9 172.3h0M240.8 179.7h0M211.5 173.6h0M220.3 177.7h0M222.6 179.6h0M248 187.8h0M229.6 177.3h0M229.9 171.3h0M224.3 171.8h0M236.3 170.7h0M210.8 186.6h0M219.2 171.9h0M207.6 185.6h0M237.4 170.2h0M214.5 181.7h0M236.2 176.4h0M238.7 175.1h0M217.6 185.7h0M208.2 176.4h0M215.9 185.6h0M248 177.4h0M232.1 177.1h0M232.4 176.3h0M219.9 190h0M209.8 191.2h0M222.4 188.2h0M211.8 180.6h0M248.2 176.5h0M218.6 174.8h0M214.6 189.2h0M219.9 182.4h0M236.3 181.6h0M238 189.3h0M246.6 183.8h0M242.4 190.8h0M242.2 186.3h0M243.3 174.1h0M235.5 185.2h0M207.4 187.1h0M245.5 187.9h0M235 178.6h0M235.1 187.4h0M213.1 189.2h0M248.8 182.9h0M234.7 178.9h0M216.5 190h0M207.6 173h0M212.5 170.8h0M222.5 175.7h0M212.9 174.4h0M217.7 183.3h0M229.2 188.9h0M217.6 174.2h0M219.1 183h0M239.5 186.4h0M215.2 186.5h0M223.3 183.3h0M234.3 181h0M244 190.3h0M235.2 173.4h0M217 190.8h0M225.6 188.8h0M226.5 176h0M211 188.8h0M227.4 187.5h0M216.8 181.7h0M212 189.9h0M222.3 181.1h0M246.8 179.3h0M210 186.4h0M238.6 179.1h0M244 170.8h0M243.5 188.9h0M247.1 179.9h0M217.2 187.6h0M243.7 186.6h0M210.5 185.5h0M246.3 181.3h0M238.1 189.8h0M226.3 184.3h0M215.7 177h0M222.4 188.7h0M248.8 180.8h0M214.6 191.3h0M234.8 180.1h0M208 181.1h0M238.5 179.6h0M216.9 180.4h0M232.7 177.2h0M213.2 174.1h0M247.2 175.4h0M243.4 183.2h0M245.4 187.3h0M216.6 178.3h0M245.3 189.6h0M216.2 190.7h0M225.7 188.3h0M215.1 175.2h0M231.8 171.2h0M224.1 176.6h0M207.5 171.1h0M216.9 180.9h0M228.7 171.1h0M227.9 170.2h0M233.4 186.6h0M242.4 186.9h0M249.5 181.3h0M216.6 170.8h0M220.7 182.4h0M221.6 176.9h0M208 183.1h0M213.9 173.5h0M207 178.1h0M218 181.4h0M230.9 176h0M212.9 186h0M212.1 170.8h0M213.3 188.3h0M229.2 178.7h0M244.7 190.2h0M217 187.6h0M231.9 181.4h0M224.4 172.3h0M235.1 172.9h0M247.7 185.4h0M247 182.4h0M209.2 171.8h0M211.4 191.1h0M219.3 185h0M248.1 172.7h0M224.9 179.8h0M243.1 174h0M234.8 180.1h0M212 186h0M235 178.6h0M241 172.1h0M247.9 187.1h0M210.2 172.1h0M231.2 187.3h0M236.4 185.7h0M217.1 183.3h0M229.3 160.8h0M210.1 162.4h0M233.5 165.2h0M235.6 158.6h0M207.4 163.7h0M235.8 160h0M234.5 168.4h0M247.7 161h0M216.9 165.9h0M247.7 168.4h0M224.4 160.4h0M245.3 168.4h0M238.2 167h0M235.2 159.3h0M212.4 168.4h0M216.1 167.4h0M208.5 169h0M224.3 166.3h0M210.3 164.5h0M247.1 164.4h0M222.1 160.2h0M225.6 169.1h0M227.5 170.7h0M235.7 168.5h0M222.7 157.1h0M239.6 162h0M234.3 162.2h0M237 157.6h0M215.3 159.5h0M219.8 167.7h0M241.9 162h0M243.1 157.7h0M232 168.9h0M207.6 162.7h0M237.8 167.7h0M210 170.9h0M214.4 160.3h0M207.2 167.5h0M218.3 163.5h0M249 170.7h0M211.9 160.8h0M248.2 168.9h0M221.3 163h0M220.6 165h0M227.4 167.4h0M209.3 169.9h0M213.9 169.6h0M233.5 162.5h0M218.2 162.7h0M238 167h0M227.9 168.2h0M246.5 165h0M209.2 168.9h0M236.4 165.3h0M237.5 168.1h0M240.9 160.5h0M211 164.8h0M215.1 160.2h0M241.2 160.2h0M216.8 169.9h0M235.2 162.3h0M212.9 168.5h0M231.8 169.9h0M233.9 167.8h0M218 166.5h0M229.7 160.5h0M208.3 160h0M216.4 167.2h0M234.2 161.5h0M233.1 160.7h0M215.7 166.5h0M235.2 167h0M213.7 167.7h0M239.8 162h0M237.4 158.7h0M240.8 167h0M220.4 160.8h0M209.4 163h0M210.8 170.5h0M228.8 168.7h0M246.6 161.6h0M226.6 168.5h0M212.1 165.3h0M229.2 165.5h0M237.4 164.2h0M240 169.8h0M210 166.4h0M227.5 167.4h0M235.4 167.6h0M220.5 164.2h0M237.3 160.8h0M222.8 164.6h0M246.4 161.1h0M233.3 169.8h0M226.4 163.4h0M218.8 170.6h0M248.7 157.6h0M212.5 165.4h0M233.3 167.5h0M209.9 162h0M239.8 166.2h0M210.6 166.7h0M211 160.8h0M209.2 167.1h0M239.6 169.5h0M211.5 170.2h0M214 163h0M242.4 168.4h0M214.4 159.2h0M225.1 167.4h0M212.2 168.2h0M248.3 169.4h0M218 163.2h0M244.9 160.3h0M227.1 158.1h0M232.7 167.9h0M226.8 161.9h0M238.2 169.5h0M215.2 156.4h0M211.5 162.4h0M221.4 167.2h0M217.8 166h0M249.1 168.7h0M243.3 166.2h0M214.3 159.5h0M221.5 168.1h0M224.8 162.3h0M243.7 162.7h0M207.4 159.2h0M232.8 161.2h0M247.5 167h0M243.1 158.5h0M218.3 167.2h0M222.9 166h0M223.1 169.5h0M216.7 159.6h0M224.4 164h0M244.7 161.8h0M217.4 160.8h0M241.2 157.4h0M237.9 162.1h0M241.6 167.3h0M234.9 165.3h0M242.7 168.9h0M229.9 166.3h0M241.9 165.8h0M242.9 157.9h0M244.4 169.2h0M246.9 162.7h0M235.8 160.9h0M209 158.9h0M230.3 165h0M221.4 158.9h0M240.2 160.8h0M216.1 166.3h0M217.6 169.9h0M220.9 170.6h0M240.9 168h0M210 170.2h0M238.5 168.8h0M226.9 186.8h0M240.9 190.7h0M220.7 188.4h0M244.7 187.3h0M244.9 189.1h0M220.8 190.1h0M231.5 184.7h0M232.1 189.8h0M229.3 187.4h0M225.1 190.2h0M235.3 185.5h0M222.9 186.5h0M247.3 188.9h0M213.1 190.4h0M209.4 188.1h0M225.7 189h0M225.6 184.6h0M229.5 189.7h0M240.3 186.5h0M217.1 189.2h0M240.9 185.5h0M244.2 190.9h0M225.8 186.7h0M237.1 190.5h0M216.3 186.1h0M221.5 189.1h0M215.7 187.8h0M228.5 188.7h0M213.9 190.7h0M249 187.9h0M240.6 185.3h0M245.3 187.9h0M239.1 190.1h0M222.8 190.5h0M216.5 184.2h0M228.6 190.3h0M244.9 190.7h0M228.9 190.5h0M231 185h0M233.9 189.6h0M225.4 188.2h0M218.6 185.9h0M225.2 187.6h0M227.2 184.6h0M208.2 186.4h0M237.4 189.2h0M217.7 185.8h0M229.2 185.2h0M232.7 190.3h0M216.3 188.1h0M237.6 189.2h0M237.2 189h0M219.2 189.9h0M245.9 184.4h0M246.7 187.1h0M211.5 184.5h0M240.7 188.7h0M213.8 187.2h0M234.2 191h0M221.8 189.4h0M218 185.4h0M214.6 186.9h0M233.3 186.1h0M214.6 185.5h0M211.5 185.4h0M220.9 187.5h0M215.5 187.4h0M226 190.8h0M227.9 190.6h0M227.3 185.4h0M232.3 185h0M214.9 184.5h0M236.8 190.8h0M224.5 186.5h0M225.4 186.5h0M236.3 186.7h0M214.2 190.1h0M231.5 184h0M242.8 189.1h0M222.5 188.4h0M246.2 129.7h0M226 125.1h0M231 141.2h0M238.5 153.8h0M214 128.1h0M243.3 146.8h0M232.5 141.8h0M222.1 153.6h0M230.8 129.7h0M215.6 117.1h0M245.2 147.2h0M209.1 126.2h0M227.9 133.8h0M223.1 151.4h0M222.5 135.4h0M246.6 140.1h0M227.8 126.6h0M224.1 138.8h0M240.6 123.5h0M223.4 129.1h0M223.1 152.2h0M230.4 124.1h0M221.8 148.1h0M214.6 142.4h0M208.9 120.5h0M210.5 147.4h0M214.1 122h0M210.4 123.6h0M238.4 143.7h0M245.8 153.7h0M230.9 152.6h0M211.7 152.7h0M215 142.6h0M217.9 148.5h0M215.9 149.3h0M218 142.9h0M209.4 105h0M211.7 106h0M217.5 140.5h0M217.5 136.4h0M218.5 112.6h0M218.3 135.3h0M212.8 122.1h0M209.1 154.9h0M213.9 116.4h0M218.4 115.3h0M226 140.4h0M215.2 112.3h0M217.8 121.6h0M218.8 142.1h0M220.9 139.1h0M218.5 104.8h0M211.4 133.5h0M219.2 126.9h0M220.4 120.9h0M213.9 124h0M223.3 151.5h0M214.7 132.7h0M218.3 123.3h0M218.6 139.6h0M223.1 144.7h0M217.2 130.3h0M223.1 124.9h0M217.2 138.5h0M212 124.7h0M214.7 153.9h0M224.5 135.6h0M214.8 119.8h0M215.1 150.9h0M218.9 145h0M218.5 155.5h0M210.9 139.5h0M214.6 116.9h0M222.2 135.4h0M220.7 128.9h0M222.6 117.6h0M218.3 152.3h0M216.3 143.1h0M220.4 133.4h0M221.6 151.1h0M213.9 152.5h0M215.1 107.6h0M234.4 117.7h0M231.9 109h0M237.4 141.5h0M230.4 116.6h0M233.2 108.2h0M227.4 129.2h0M233.4 137.7h0M230.9 117.7h0M226.9 153h0M241.5 155.9h0M228.6 145.8h0M236.7 143.2h0M226 124.3h0M236.5 153.4h0M231.7 142.7h0M234.4 110.7h0M233.3 155.4h0M232.6 131.7h0M233.9 136.8h0M231.6 123h0M234 104.8h0M242.4 128.3h0M241.7 150.3h0M238.7 104.8h0M229 141.1h0M235.1 141.6h0M228.1 112.8h0M242.9 110.2h0M234.9 112.9h0M231.9 129.5h0M232.6 152.3h0M236.4 128.1h0M234.8 151.4h0M230.6 114.7h0M239.3 154.5h0M230.5 143.9h0M230.1 148.3h0M229.8 126.5h0M242.3 145.7h0M239.9 139.1h0M233.9 127.6h0M230.7 146.6h0M244.1 111.5h0M231.5 139.2h0M229.6 111.9h0M232.4 110.3h0M228.7 117.2h0M235 122.5h0M226.7 134.2h0M231.4 111.6h0M237.3 153.9h0M231.1 155h0M237.9 154.2h0M238.7 123.4h0M230.2 104.5h0M232.8 113.8h0M229 104.3h0M231 104.4h0M233 104.6h0M235 104.5h0M237 104.8h0M213.5 105.6h0M215.5 105.4h0M217.5 105.8h0M208.5 104h0M208 110.5h0M219 101h0M220.5 106h0M244 121h0M247 125.5h0M241 110h0M255.5 173.4h0M256.7 169.6h0M254 171.5h0M253.7 160.9h0M253.3 160.8h0M252.4 191.1h0M255 184h0M254.8 187h0M256.6 169.6h0M255.8 162.1h0M257.5 169.3h0M255.9 191.5h0M252.3 176.9h0M257.3 180.5h0M255.1 191.2h0M254.3 162.8h0M255.2 165h0M252.1 184.1h0M253 164.8h0M252.6 161.9h0M253.5 163.4h0M254.8 180.2h0M257.3 177.6h0M255.8 188.8h0M256.6 160.5h0M252.6 167.3h0M253.5 185.9h0M254 169.8h0M257.2 160.2h0M257.5 171h0M255.6 185.5h0M256 173.1h0M254 162.9h0M253.4 186.2h0M252.9 185.9h0M255.2 165.7h0M252.9 174.6h0M255.2 172.8h0M254.3 173.3h0M252.1 189.2h0M254.3 183h0M256.2 182.8h0M256.5 182.8h0M252.5 175.4h0M254.1 179.8h0M256.2 183.4h0M255.7 164.7h0M254.5 174.6h0M257.1 171.5h0M253 188.7h0M252.5 179.9h0M252.5 170.2h0M254.3 180.6h0M254.8 161.8h0M253.3 185.7h0M253.7 180.1h0M257 168.5h0M254.4 185.3h0M252.2 186.8h0M256.7 170.2h0M252.9 170.9h0M252.3 174.5h0M253.8 187.5h0M256.1 168.2h0M254.8 185.3h0M255.7 176.7h0M255.6 187.9h0M257 191.4h0M253.2 177.8h0M253.1 188.1h0M255.8 160.2h0M253.8 182h0M254.5 124h0M256 126.5h0M255 129h0M268 132.8h0M268 167h0M268 179h0M267.5 187h0M264.5 191h0M279 184.7h0M276.6 172.6h0M276.9 186.6h0M273.6 176.2h0M281.9 166.9h0M273.9 177.3h0M277.4 185.5h0M279 177.5h0M280.3 182.8h0M281.4 169.5h0M277.3 187h0M277.4 187.4h0M279.2 172.4h0M278.2 165.6h0M273.4 171.9h0M280.2 187.9h0M275.9 189.7h0M278.2 171.7h0M276.1 172.4h0M276.3 172h0M275.5 165.5h0M276.9 191.4h0M273.8 171.7h0M280.8 173.9h0M274.4 168.1h0M279.5 187.8h0M276.4 173h0M273 190.1h0M276.2 168h0M282 182.1h0M281.2 170.2h0M280.8 175.1h0M281.7 173.7h0M281.5 175.7h0M274.8 176.9h0M277.3 181.6h0M276.4 177.1h0M278.3 184.7h0M275.5 177.3h0M277.5 179.4h0M279 185.8h0M277.8 183.3h0M279.9 172.2h0M280 176.9h0M275.2 166.8h0M277.6 180.6h0M275.6 179.9h0M279.4 169.4h0M277.3 171.5h0M274.9 178.6h0M276.2 182.4h0M276.2 171h0M279.6 185.1h0M275.1 170.2h0M278.9 172.9h0M278.7 172.5h0M275.5 189.5h0M276.2 190.4h0M281.7 176.7h0M279 165.8h0M280.2 184.5h0M276 188h0M280.2 171.4h0M277.4 180.7h0M275.4 177.7h0M279.4 167.5h0M280.6 168.2h0M277 179.4h0M275.8 165.6h0M274.7 186.6h0M275.5 166.9h0M280.7 181.8h0M280.7 167.6h0M276.8 185.6h0M280 180.6h0M274.1 167.3h0M277 180h0M278.4 183.8h0M273.2 180.2h0M276.4 191.1h0M276.3 170.8h0M276 172.8h0M278.6 185.7h0M273.2 172.9h0M278.5 182.8h0M274.8 168.5h0M281.2 184.4h0M278.3 175.4h0M275.9 190.3h0M275.9 173.7h0M278.4 177.1h0M274.1 185h0M275.8 179.5h0M276.3 167.4h0M274 165.3h0M275.2 168.5h0M275.2 175.1h0M276.4 190.2h0M280.2 169.6h0M275.4 170.4h0M277.3 165.3h0M273.5 180.5h0M275.1 174.2h0M280 168.8h0M277.9 180.3h0M280.2 188.1h0M275.3 171h0M277 165.2h0M273.8 178.3h0M274.9 191.5h0M273.8 188.5h0M276.3 179.1h0M277.6 182.9h0M279.3 176.9h0M281.8 186.2h0M277.6 177.5h0M276.3 168.3h0M274.9 167.9h0M276.2 181.6h0M278.5 175.7h0M284.3 187.7h0M289.6 174.8h0M282.9 168h0M286.3 177.7h0M284.6 160.5h0M284.7 175.1h0M289.7 175.1h0M285.2 184.4h0M287.3 164.7h0M285.6 175.1h0M283.9 162.9h0M285.7 160h0M285 163.9h0M282.2 183h0M289.7 162.3h0M287.4 170.8h0M285.8 182.9h0M283.4 168h0M287.6 180h0M287.2 185.2h0M286.9 183.7h0M286.1 178.3h0M286.4 185.4h0M285.9 167.4h0M283.1 179.6h0M287.4 169h0M286.9 160.8h0M286.6 181.7h0M285.5 160.2h0M286.5 162.1h0M284.9 173.9h0M289.8 156.9h0M287.2 186.4h0M286.9 189.8h0M289.5 151.6h0M287.8 179.6h0M288.8 183.1h0M288.6 169.2h0M282.1 161.2h0M285.5 160.2h0M287.5 169.4h0M288.9 182h0M289.2 176.2h0M282.2 178.9h0M282.5 188.4h0M287 185.8h0M283.3 180.1h0M284.2 158.4h0M289.2 155.6h0M289.9 171.8h0M288.4 178.9h0M289.4 157.6h0M287.9 181.2h0M282.7 159.6h0M286.4 167.2h0M288.9 184.5h0M287.6 172h0M288.3 171.9h0M283.6 157.8h0M284.2 164.1h0M288.6 180.1h0M287.6 174.6h0M283.8 182.6h0M289.6 174.8h0M286.1 171.4h0M282.2 165.4h0M288 156.5h0M284.9 182.7h0M284.8 164.1h0M287.3 174.3h0M286.2 184.6h0M289.3 170.8h0M286.1 161.2h0M283.6 165.3h0M284.8 161.4h0M282.8 180.8h0M287.1 171.5h0M285 169.2h0M283.7 174.8h0M282 164.1h0M284 161.4h0M286.4 167.5h0M287 185.6h0M288.2 178.4h0M288.9 159h0M287.4 159.1h0M285.5 165.6h0M289.6 182.4h0M282.8 176.1h0M286.1 184.8h0M283.8 160.5h0M285.1 185h0M283.5 170.2h0M283.5 173.6h0M286.3 173.5h0M286 159.5h0M282.1 160h0M283.6 189.7h0M288.1 167.6h0M286.3 182h0M288.2 177.9h0M287.8 181.2h0M286.6 165.8h0M285 172.7h0M282.5 168.7h0M287.5 184.4h0M286.4 162.9h0M282.8 162.2h0M289 188.8h0M284 187.8h0M284 187.7h0M285.9 180.8h0M284.4 173.6h0M285 162.1h0M287.8 186h0M283.8 191.1h0M284.6 186.7h0M287.6 160.3h0M290 181.4h0M282.3 165.2h0M291.6 141h0M291.6 170.5h0M290.3 140.2h0M292 163.8h0M291.7 148.2h0M293.3 162h0M290.7 165.5h0M293.6 165.5h0M292.6 157.9h0M291.8 157.2h0M291 158h0M293.5 184.5h0M291.5 143.2h0M293.9 189.9h0M292.5 154.5h0M293.4 162.3h0M290.5 171.1h0M292.9 150h0M290.8 154h0M292.6 153.3h0M290.1 163.7h0M291.3 156.1h0M291.3 181.2h0M292.7 171.9h0M293.2 170.8h0M292.2 146.4h0M290.5 149.9h0M290.3 140.8h0M290.1 150.2h0M291.5 178h0M291.6 160.7h0M291.7 181.6h0M292.1 171.1h0M293.9 166.7h0M291.7 175.2h0M293.9 170h0M292.6 145.3h0M291.6 148.8h0M291.1 182.5h0M290.2 163.4h0M293.5 176.6h0M291.8 148.4h0M291.1 179.7h0M292.1 164.5h0M293.8 142.4h0M291 157.9h0M291.7 188h0M291.8 141.6h0M291.2 156.6h0M292.8 185.7h0M293.7 182.5h0M291.2 150.6h0M290.1 167.1h0M290.5 162.1h0M290.1 179.8h0M290.9 184.4h0M290.4 177.1h0M292.1 180.7h0M293.3 165h0M291 174.4h0M293.4 187h0M293 183.3h0M293.8 165.4h0M292.4 143.9h0M290.4 185.7h0M292.8 156.6h0M292.9 172.4h0M292 177.6h0M291.7 172.2h0M292.3 171.2h0M291.1 154h0M290.3 146.7h0M292 175.1h0M290.5 160.4h0M292 150.4h0M291.5 165.2h0M293.6 172.6h0M293.9 142.7h0M294 140.4h0M291 146.1h0M292.4 176.6h0M294 153.7h0M293.2 158h0M290.3 143.9h0M276.7 185.8h0M285.9 185.4h0M282.7 189h0M275 188.6h0M275.2 187.3h0M286.6 188.8h0M273.9 185.3h0M293.2 186.7h0M281.9 186.6h0M287.6 189.2h0M286.7 186.8h0M285 187.6h0M276.9 190.6h0M293.3 189.4h0M293.8 187.3h0M290.6 185.7h0M288.6 189h0M292.7 189.8h0M291.5 185.9h0M289.5 187.3h0M279.6 186.6h0M289.8 189.9h0M290.7 188.7h0M276.6 185.1h0M284.9 185.5h0M280.1 184.7h0M276.3 189h0M277.7 189.9h0M279.9 189.9h0M279.4 185.9h0M281.3 184.1h0M282.1 186.7h0M273.3 190h0M280.9 184h0M293.2 185.6h0M278.3 184.2h0M275.1 189h0M285.2 187.5h0M278.2 186h0M293.4 186.6h0M293.8 190.2h0M275.6 189.9h0M273.4 189h0M290 188.9h0M277.4 132.8h0M278.8 133h0M280.3 132.6h0M281.7 132.8h0M283.2 132.7h0M284.6 132.7h0M286.1 132.6h0M287.5 132.9h0M289 132.8h0M290.4 133h0M291.9 132.9h0M293.3 132.9h0M277.4 126.6h0M279 126.5h0M280.7 126.3h0M282.4 126.2h0M284 126.6h0M291.4 98.9h0M291.4 112.7h0M291 119h0M273.5 121h0M276 120.5h0M278 121.5h0M281 122h0M284 121.5h0M287 122h0M289 124.5h0M273.5 131h0M275 134h0M274.5 146h0M273.5 150h0M286 127h0M292 126h0M288.5 139h0M291.5 143h0M276 141h0" fill="none" stroke="#000" stroke-width="3.9" stroke-linecap="round"/>
<path d="M168.8 38V197.6" stroke="#e3128f" stroke-width="1.6" stroke-dasharray="8.9 2.95" stroke-dashoffset="6"/>
<text x="173" y="20.6" text-anchor="middle" font-weight="bold" font-size="10.7" fill="#111">GTOT_Chr4</text>
<text transform="translate(32.2 191.6) rotate(-90)" text-anchor="middle" font-size="8.8" fill="#222">0</text>
<text transform="translate(32.2 167.5) rotate(-90)" text-anchor="middle" font-size="8.8" fill="#222">1</text>
<text transform="translate(32.2 143.4) rotate(-90)" text-anchor="middle" font-size="8.8" fill="#222">2</text>
<text transform="translate(32.2 119.3) rotate(-90)" text-anchor="middle" font-size="8.8" fill="#222">3</text>
<text transform="translate(32.2 95.2) rotate(-90)" text-anchor="middle" font-size="8.8" fill="#222">4</text>
<text transform="translate(32.2 71.1) rotate(-90)" text-anchor="middle" font-size="8.8" fill="#222">5</text>
<text transform="translate(32.2 47.0) rotate(-90)" text-anchor="middle" font-size="8.8" fill="#222">6</text>
<text x="92.0" y="217.6" text-anchor="middle" font-size="8.4" fill="#222">5.90</text>
<text x="140.0" y="217.6" text-anchor="middle" font-size="8.4" fill="#222">5.95</text>
<text x="187.8" y="217.6" text-anchor="middle" font-size="8.4" fill="#222">6.00</text>
<text x="235.4" y="217.6" text-anchor="middle" font-size="8.4" fill="#222">6.05</text>
<text x="283.4" y="217.6" text-anchor="middle" font-size="8.4" fill="#222">6.10</text>
<text transform="translate(7.6 117.5) rotate(-90)" text-anchor="middle" font-size="9.2" fill="#333">-log<tspan font-size="6" dy="1.6">10</tspan><tspan dy="-1.6">(P)</tspan></text>
</g>
<g id="panelB">
<defs><clipPath id="tri"><path d="M18.2 286.4H319.9L169.05 437.75Z"/></clipPath>
<linearGradient id="key" x1="0" x2="1" y1="0" y2="0">
<stop offset="0.000" stop-color="#fff50a"/><stop offset="0.050" stop-color="#fff50a"/>
<stop offset="0.050" stop-color="#ffe800"/><stop offset="0.100" stop-color="#ffe800"/>
<stop offset="0.100" stop-color="#ffdb00"/><stop offset="0.150" stop-color="#ffdb00"/>
<stop offset="0.150" stop-color="#ffce00"/><stop offset="0.200" stop-color="#ffce00"/>
<stop offset="0.200" stop-color="#ffc100"/><stop offset="0.250" stop-color="#ffc100"/>
<stop offset="0.250" stop-color="#ffb400"/><stop offset="0.300" stop-color="#ffb400"/>
<stop offset="0.300" stop-color="#ffa700"/><stop offset="0.350" stop-color="#ffa700"/>
<stop offset="0.350" stop-color="#ff9b00"/><stop offset="0.400" stop-color="#ff9b00"/>
<stop offset="0.400" stop-color="#ff8e00"/><stop offset="0.450" stop-color="#ff8e00"/>
<stop offset="0.450" stop-color="#ff8100"/><stop offset="0.500" stop-color="#ff8100"/>
<stop offset="0.500" stop-color="#ff7400"/><stop offset="0.550" stop-color="#ff7400"/>
<stop offset="0.550" stop-color="#ff6700"/><stop offset="0.600" stop-color="#ff6700"/>
<stop offset="0.600" stop-color="#ff5a00"/><stop offset="0.650" stop-color="#ff5a00"/>
<stop offset="0.650" stop-color="#ff4d00"/><stop offset="0.700" stop-color="#ff4d00"/>
<stop offset="0.700" stop-color="#ff4000"/><stop offset="0.750" stop-color="#ff4000"/>
<stop offset="0.750" stop-color="#ff3400"/><stop offset="0.800" stop-color="#ff3400"/>
<stop offset="0.800" stop-color="#ff2700"/><stop offset="0.850" stop-color="#ff2700"/>
<stop offset="0.850" stop-color="#ff1a00"/><stop offset="0.900" stop-color="#ff1a00"/>
<stop offset="0.900" stop-color="#ff0d00"/><stop offset="0.950" stop-color="#ff0d00"/>
<stop offset="0.950" stop-color="#ff0000"/><stop offset="1.000" stop-color="#ff0000"/>
</linearGradient></defs>
<g clip-path="url(#tri)">
<rect x="0" y="280" width="343" height="170" fill="#f9ed0c"/>
<g transform="matrix(0.5 -0.5 0.5 0.5 18.2 286.9)">
<rect x="0.0" y="0.0" width="17.0" height="17.0" fill="#f85c06" fill-opacity="0.75"/>
<rect x="0.0" y="0.0" width="9.0" height="9.0" fill="#ee300a" fill-opacity="0.50"/>
<rect x="18.0" y="18.0" width="16.0" height="16.0" fill="#f85c06" fill-opacity="0.80"/>
<rect x="22.0" y="22.0" width="12.0" height="12.0" fill="#ee300a" fill-opacity="0.45"/>
<rect x="0.0" y="18.0" width="17.0" height="16.0" fill="#ff9000" fill-opacity="0.55"/>
<rect x="37.0" y="37.0" width="73.0" height="73.0" fill="#ff9000" fill-opacity="0.45"/>
<rect x="44.0" y="44.0" width="66.0" height="66.0" fill="#ff9000" fill-opacity="0.30"/>
<rect x="62.0" y="62.0" width="48.0" height="48.0" fill="#f85c06" fill-opacity="0.65"/>
<rect x="68.0" y="68.0" width="42.0" height="42.0" fill="#ee300a" fill-opacity="0.50"/>
<rect x="80.0" y="80.0" width="30.0" height="30.0" fill="#ee300a" fill-opacity="0.40"/>
<rect x="44.0" y="68.0" width="24.0" height="42.0" fill="#f85c06" fill-opacity="0.25"/>
<rect x="113.0" y="113.0" width="9.5" height="9.5" fill="#ff9000" fill-opacity="0.70"/>
<rect x="131.5" y="131.5" width="31.5" height="31.5" fill="#f85c06" fill-opacity="0.90"/>
<rect x="133.0" y="133.0" width="29.5" height="29.5" fill="#ee300a" fill-opacity="0.60"/>
<rect x="0.0" y="37.0" width="35.0" height="31.0" fill="#ff9000" fill-opacity="0.32"/>
<rect x="0.0" y="68.0" width="35.0" height="42.0" fill="#ff9000" fill-opacity="0.58"/>
<rect x="3.0" y="74.0" width="27.0" height="34.0" fill="#f85c06" fill-opacity="0.15"/>
<rect x="0.0" y="131.5" width="18.5" height="31.5" fill="#f85c06" fill-opacity="0.80"/>
<rect x="0.0" y="133.0" width="17.5" height="29.0" fill="#ee300a" fill-opacity="0.55"/>
<rect x="18.5" y="131.5" width="16.5" height="31.5" fill="#ff9000" fill-opacity="0.38"/>
<rect x="37.0" y="112.0" width="33.0" height="40.0" fill="#ff9000" fill-opacity="0.22"/>
<rect x="37.0" y="131.5" width="73.0" height="31.5" fill="#ff9000" fill-opacity="0.08"/>
<rect x="131.5" y="214.0" width="31.5" height="22.0" fill="#ff9000" fill-opacity="0.13"/>
<rect x="133.0" y="250.0" width="29.0" height="22.0" fill="#ff9000" fill-opacity="0.13"/>
<rect x="18.0" y="205.0" width="17.0" height="23.0" fill="#ff9000" fill-opacity="0.15"/>
<rect x="16.0" y="254.0" width="18.0" height="18.0" fill="#ff9000" fill-opacity="0.12"/>
<rect x="262.0" y="262.0" width="40.0" height="40.0" fill="#ff9000" fill-opacity="0.15"/>
<rect x="280.0" y="280.0" width="16.0" height="16.0" fill="#ff9000" fill-opacity="0.22"/>
<rect x="214.0" y="214.0" width="22.0" height="22.0" fill="#ff9000" fill-opacity="0.15"/>
<rect x="0.0" y="163.0" width="35.0" height="37.0" fill="#ff9000" fill-opacity="0.10"/>
<rect x="37.0" y="163.0" width="73.0" height="37.0" fill="#ff9000" fill-opacity="0.08"/>
<rect x="165.0" y="165.0" width="35.0" height="35.0" fill="#ff9000" fill-opacity="0.06"/>
<path d="M112.0 112.0V301.7M0 112.0H112.0" stroke="#ffff2a" stroke-opacity="0.29" stroke-width="0.5" fill="none"/>
<path d="M224.4 224.4V301.7M0 224.4H224.4" stroke="#ffff2a" stroke-opacity="0.53" stroke-width="0.8" fill="none"/>
<path d="M234.7 234.7V301.7M0 234.7H234.7" stroke="#ffff2a" stroke-opacity="0.36" stroke-width="1.0" fill="none"/>
<path d="M171.0 171.0V301.7M0 171.0H171.0" stroke="#ffff2a" stroke-opacity="0.26" stroke-width="0.5" fill="none"/>
<path d="M34.2 34.2V301.7M0 34.2H34.2" stroke="#ffff2a" stroke-opacity="0.27" stroke-width="0.6" fill="none"/>
<path d="M201.4 201.4V301.7M0 201.4H201.4" stroke="#ffa800" stroke-opacity="0.14" stroke-width="0.6" fill="none"/>
<path d="M134.4 134.4V301.7M0 134.4H134.4" stroke="#ffff2a" stroke-opacity="0.26" stroke-width="0.5" fill="none"/>
<path d="M293.2 293.2V301.7M0 293.2H293.2" stroke="#ffff2a" stroke-opacity="0.22" stroke-width="0.6" fill="none"/>
<path d="M9.3 9.3V301.7M0 9.3H9.3" stroke="#ffa800" stroke-opacity="0.10" stroke-width="1.0" fill="none"/>
<path d="M26.0 26.0V301.7M0 26.0H26.0" stroke="#ffa800" stroke-opacity="0.12" stroke-width="0.6" fill="none"/>
<path d="M176.9 176.9V301.7M0 176.9H176.9" stroke="#ffff2a" stroke-opacity="0.42" stroke-width="0.6" fill="none"/>
<path d="M125.4 125.4V301.7M0 125.4H125.4" stroke="#ffff2a" stroke-opacity="0.38" stroke-width="0.5" fill="none"/>
<path d="M97.5 97.5V301.7M0 97.5H97.5" stroke="#ffff2a" stroke-opacity="0.32" stroke-width="1.0" fill="none"/>
<path d="M3.6 3.6V301.7M0 3.6H3.6" stroke="#ffa800" stroke-opacity="0.13" stroke-width="0.5" fill="none"/>
<path d="M259.1 259.1V301.7M0 259.1H259.1" stroke="#ffff2a" stroke-opacity="0.54" stroke-width="1.0" fill="none"/>
<path d="M252.5 252.5V301.7M0 252.5H252.5" stroke="#ffff2a" stroke-opacity="0.20" stroke-width="1.0" fill="none"/>
<path d="M115.7 115.7V301.7M0 115.7H115.7" stroke="#ffff2a" stroke-opacity="0.54" stroke-width="0.8" fill="none"/>
<path d="M150.8 150.8V301.7M0 150.8H150.8" stroke="#ffff2a" stroke-opacity="0.23" stroke-width="1.0" fill="none"/>
<path d="M198.7 198.7V301.7M0 198.7H198.7" stroke="#ffa800" stroke-opacity="0.12" stroke-width="1.0" fill="none"/>
<path d="M180.5 180.5V301.7M0 180.5H180.5" stroke="#ffa800" stroke-opacity="0.09" stroke-width="0.5" fill="none"/>
<path d="M231.4 231.4V301.7M0 231.4H231.4" stroke="#ffff2a" stroke-opacity="0.51" stroke-width="0.8" fill="none"/>
<path d="M200.6 200.6V301.7M0 200.6H200.6" stroke="#ffff2a" stroke-opacity="0.20" stroke-width="0.8" fill="none"/>
<path d="M143.2 143.2V301.7M0 143.2H143.2" stroke="#ffff2a" stroke-opacity="0.36" stroke-width="0.6" fill="none"/>
<path d="M31.2 31.2V301.7M0 31.2H31.2" stroke="#ffff2a" stroke-opacity="0.39" stroke-width="0.5" fill="none"/>
<path d="M280.1 280.1V301.7M0 280.1H280.1" stroke="#ffa800" stroke-opacity="0.10" stroke-width="1.0" fill="none"/>
<path d="M299.4 299.4V301.7M0 299.4H299.4" stroke="#ffff2a" stroke-opacity="0.51" stroke-width="0.5" fill="none"/>
<path d="M191.4 191.4V301.7M0 191.4H191.4" stroke="#ffff2a" stroke-opacity="0.37" stroke-width="0.6" fill="none"/>
<path d="M191.4 191.4V301.7M0 191.4H191.4" stroke="#ffa800" stroke-opacity="0.14" stroke-width="0.5" fill="none"/>
<path d="M4.2 4.2V301.7M0 4.2H4.2" stroke="#ffa800" stroke-opacity="0.11" stroke-width="0.8" fill="none"/>
<path d="M230.9 230.9V301.7M0 230.9H230.9" stroke="#ffff2a" stroke-opacity="0.43" stroke-width="0.6" fill="none"/>
<path d="M241.5 241.5V301.7M0 241.5H241.5" stroke="#ffa800" stroke-opacity="0.13" stroke-width="0.6" fill="none"/>
<path d="M225.0 225.0V301.7M0 225.0H225.0" stroke="#ffff2a" stroke-opacity="0.25" stroke-width="0.8" fill="none"/>
<path d="M243.0 243.0V301.7M0 243.0H243.0" stroke="#ffff2a" stroke-opacity="0.38" stroke-width="0.5" fill="none"/>
<path d="M116.4 116.4V301.7M0 116.4H116.4" stroke="#ffff2a" stroke-opacity="0.36" stroke-width="0.8" fill="none"/>
<path d="M254.7 254.7V301.7M0 254.7H254.7" stroke="#ffa800" stroke-opacity="0.05" stroke-width="0.8" fill="none"/>
<path d="M81.7 81.7V301.7M0 81.7H81.7" stroke="#ffff2a" stroke-opacity="0.24" stroke-width="1.0" fill="none"/>
<path d="M252.9 252.9V301.7M0 252.9H252.9" stroke="#ffff2a" stroke-opacity="0.39" stroke-width="0.5" fill="none"/>
<path d="M280.0 280.0V301.7M0 280.0H280.0" stroke="#ffff2a" stroke-opacity="0.22" stroke-width="0.5" fill="none"/>
<path d="M114.6 114.6V301.7M0 114.6H114.6" stroke="#ffff2a" stroke-opacity="0.21" stroke-width="0.8" fill="none"/>
<path d="M264.9 264.9V301.7M0 264.9H264.9" stroke="#ffff2a" stroke-opacity="0.25" stroke-width="1.0" fill="none"/>
<path d="M247.5 247.5V301.7M0 247.5H247.5" stroke="#ffff2a" stroke-opacity="0.53" stroke-width="0.5" fill="none"/>
<path d="M244.5 244.5V301.7M0 244.5H244.5" stroke="#ffa800" stroke-opacity="0.05" stroke-width="0.6" fill="none"/>
<path d="M275.4 275.4V301.7M0 275.4H275.4" stroke="#ffff2a" stroke-opacity="0.47" stroke-width="0.8" fill="none"/>
<path d="M233.3 233.3V301.7M0 233.3H233.3" stroke="#ffa800" stroke-opacity="0.06" stroke-width="0.8" fill="none"/>
<path d="M55.9 55.9V301.7M0 55.9H55.9" stroke="#ffff2a" stroke-opacity="0.50" stroke-width="1.0" fill="none"/>
<path d="M171.0 171.0V301.7M0 171.0H171.0" stroke="#ffa800" stroke-opacity="0.10" stroke-width="0.8" fill="none"/>
<path d="M55.3 55.3V301.7M0 55.3H55.3" stroke="#ffa800" stroke-opacity="0.07" stroke-width="0.8" fill="none"/>
<path d="M210.4 210.4V301.7M0 210.4H210.4" stroke="#ffff2a" stroke-opacity="0.31" stroke-width="0.5" fill="none"/>
<path d="M1.9 1.9V301.7M0 1.9H1.9" stroke="#ffff2a" stroke-opacity="0.30" stroke-width="0.8" fill="none"/>
<path d="M232.8 232.8V301.7M0 232.8H232.8" stroke="#ffa800" stroke-opacity="0.10" stroke-width="1.0" fill="none"/>
<path d="M133.6 133.6V301.7M0 133.6H133.6" stroke="#ffff2a" stroke-opacity="0.51" stroke-width="0.5" fill="none"/>
<path d="M48.8 48.8V301.7M0 48.8H48.8" stroke="#ffa800" stroke-opacity="0.05" stroke-width="0.5" fill="none"/>
<path d="M274.2 274.2V301.7M0 274.2H274.2" stroke="#ffff2a" stroke-opacity="0.29" stroke-width="1.0" fill="none"/>
<path d="M200.2 200.2V301.7M0 200.2H200.2" stroke="#ffff2a" stroke-opacity="0.24" stroke-width="1.0" fill="none"/>
<path d="M119.7 119.7V301.7M0 119.7H119.7" stroke="#ffff2a" stroke-opacity="0.48" stroke-width="0.6" fill="none"/>
<path d="M215.5 215.5V301.7M0 215.5H215.5" stroke="#ffff2a" stroke-opacity="0.44" stroke-width="1.0" fill="none"/>
<path d="M38.4 38.4V301.7M0 38.4H38.4" stroke="#ffff2a" stroke-opacity="0.35" stroke-width="1.0" fill="none"/>
<path d="M88.1 88.1V301.7M0 88.1H88.1" stroke="#ffff2a" stroke-opacity="0.31" stroke-width="0.5" fill="none"/>
<path d="M85.2 85.2V301.7M0 85.2H85.2" stroke="#ffff2a" stroke-opacity="0.42" stroke-width="1.0" fill="none"/>
<path d="M27.0 27.0V301.7M0 27.0H27.0" stroke="#ffff2a" stroke-opacity="0.40" stroke-width="0.5" fill="none"/>
<path d="M260.2 260.2V301.7M0 260.2H260.2" stroke="#ffff2a" stroke-opacity="0.34" stroke-width="0.8" fill="none"/>
<path d="M69.9 69.9V301.7M0 69.9H69.9" stroke="#ffff2a" stroke-opacity="0.27" stroke-width="0.6" fill="none"/>
<path d="M1.8 1.8V301.7M0 1.8H1.8" stroke="#ffa800" stroke-opacity="0.14" stroke-width="1.0" fill="none"/>
<path d="M103.5 103.5V301.7M0 103.5H103.5" stroke="#ffff2a" stroke-opacity="0.45" stroke-width="0.5" fill="none"/>
<path d="M25.4 25.4V301.7M0 25.4H25.4" stroke="#ffff2a" stroke-opacity="0.31" stroke-width="1.0" fill="none"/>
<path d="M155.4 155.4V301.7M0 155.4H155.4" stroke="#ffff2a" stroke-opacity="0.49" stroke-width="0.8" fill="none"/>
<path d="M86.8 86.8V301.7M0 86.8H86.8" stroke="#ffff2a" stroke-opacity="0.42" stroke-width="1.0" fill="none"/>
<path d="M52.3 52.3V301.7M0 52.3H52.3" stroke="#ffff2a" stroke-opacity="0.51" stroke-width="0.8" fill="none"/>
<path d="M124.7 124.7V301.7M0 124.7H124.7" stroke="#ffff2a" stroke-opacity="0.39" stroke-width="0.5" fill="none"/>
<path d="M149.9 149.9V301.7M0 149.9H149.9" stroke="#ffff2a" stroke-opacity="0.21" stroke-width="0.6" fill="none"/>
<path d="M300.4 300.4V301.7M0 300.4H300.4" stroke="#ffff2a" stroke-opacity="0.44" stroke-width="0.6" fill="none"/>
<path d="M28.0 28.0V301.7M0 28.0H28.0" stroke="#ffff2a" stroke-opacity="0.27" stroke-width="0.6" fill="none"/>
<path d="M112.1 112.1V301.7M0 112.1H112.1" stroke="#ffff2a" stroke-opacity="0.33" stroke-width="1.0" fill="none"/>
<path d="M32.4 32.4V301.7M0 32.4H32.4" stroke="#ffff2a" stroke-opacity="0.24" stroke-width="0.5" fill="none"/>
<path d="M226.1 226.1V301.7M0 226.1H226.1" stroke="#ffff2a" stroke-opacity="0.40" stroke-width="1.0" fill="none"/>
<path d="M190.9 190.9V301.7M0 190.9H190.9" stroke="#ffa800" stroke-opacity="0.10" stroke-width="0.6" fill="none"/>
<path d="M163.7 163.7V301.7M0 163.7H163.7" stroke="#ffff2a" stroke-opacity="0.33" stroke-width="1.0" fill="none"/>
<path d="M301.5 301.5V301.7M0 301.5H301.5" stroke="#ffff2a" stroke-opacity="0.37" stroke-width="1.0" fill="none"/>
<path d="M154.2 154.2V301.7M0 154.2H154.2" stroke="#ffa800" stroke-opacity="0.06" stroke-width="0.5" fill="none"/>
<path d="M89.9 89.9V301.7M0 89.9H89.9" stroke="#ffa800" stroke-opacity="0.07" stroke-width="0.5" fill="none"/>
<path d="M235.4 235.4V301.7M0 235.4H235.4" stroke="#ffa800" stroke-opacity="0.09" stroke-width="1.0" fill="none"/>
<path d="M23.2 23.2V301.7M0 23.2H23.2" stroke="#ffff2a" stroke-opacity="0.27" stroke-width="0.5" fill="none"/>
<path d="M27.9 27.9V301.7M0 27.9H27.9" stroke="#ffa800" stroke-opacity="0.12" stroke-width="0.6" fill="none"/>
<path d="M91.1 91.1V301.7M0 91.1H91.1" stroke="#ffff2a" stroke-opacity="0.31" stroke-width="0.5" fill="none"/>
<path d="M129.1 129.1V301.7M0 129.1H129.1" stroke="#ffff2a" stroke-opacity="0.37" stroke-width="0.5" fill="none"/>
<path d="M10.3 10.3V301.7M0 10.3H10.3" stroke="#ffff2a" stroke-opacity="0.30" stroke-width="1.0" fill="none"/>
<path d="M134.5 134.5V301.7M0 134.5H134.5" stroke="#ffff2a" stroke-opacity="0.36" stroke-width="0.6" fill="none"/>
<path d="M48.1 48.1V301.7M0 48.1H48.1" stroke="#ffa800" stroke-opacity="0.13" stroke-width="1.0" fill="none"/>
<path d="M229.0 229.0V301.7M0 229.0H229.0" stroke="#ffff2a" stroke-opacity="0.43" stroke-width="0.6" fill="none"/>
<path d="M118.5 118.5V301.7M0 118.5H118.5" stroke="#ffff2a" stroke-opacity="0.54" stroke-width="0.5" fill="none"/>
<path d="M202.8 202.8V301.7M0 202.8H202.8" stroke="#ffff2a" stroke-opacity="0.24" stroke-width="0.6" fill="none"/>
<path d="M100.9 100.9V301.7M0 100.9H100.9" stroke="#ffff2a" stroke-opacity="0.31" stroke-width="0.6" fill="none"/>
<path d="M2.9 2.9V301.7M0 2.9H2.9" stroke="#ffa800" stroke-opacity="0.11" stroke-width="1.0" fill="none"/>
<path d="M91.0 91.0V301.7M0 91.0H91.0" stroke="#ffff2a" stroke-opacity="0.28" stroke-width="0.6" fill="none"/>
<path d="M62.9 62.9V301.7M0 62.9H62.9" stroke="#ffff2a" stroke-opacity="0.37" stroke-width="0.8" fill="none"/>
<path d="M107.4 107.4V301.7M0 107.4H107.4" stroke="#ffff2a" stroke-opacity="0.50" stroke-width="1.0" fill="none"/>
<path d="M173.6 173.6V301.7M0 173.6H173.6" stroke="#ffff2a" stroke-opacity="0.44" stroke-width="0.5" fill="none"/>
<path d="M190.2 190.2V301.7M0 190.2H190.2" stroke="#ffff2a" stroke-opacity="0.35" stroke-width="0.8" fill="none"/>
<path d="M195.7 195.7V301.7M0 195.7H195.7" stroke="#ffff2a" stroke-opacity="0.21" stroke-width="0.6" fill="none"/>
<path d="M232.7 232.7V301.7M0 232.7H232.7" stroke="#ffff2a" stroke-opacity="0.47" stroke-width="0.6" fill="none"/>
<path d="M209.7 209.7V301.7M0 209.7H209.7" stroke="#ffff2a" stroke-opacity="0.47" stroke-width="0.8" fill="none"/>
<path d="M192.0 192.0V301.7M0 192.0H192.0" stroke="#ffa800" stroke-opacity="0.11" stroke-width="1.0" fill="none"/>
<path d="M255.3 255.3V301.7M0 255.3H255.3" stroke="#ffff2a" stroke-opacity="0.41" stroke-width="0.8" fill="none"/>
<path d="M219.9 219.9V301.7M0 219.9H219.9" stroke="#ffa800" stroke-opacity="0.09" stroke-width="0.6" fill="none"/>
<path d="M6.8 6.8V301.7M0 6.8H6.8" stroke="#ffff2a" stroke-opacity="0.46" stroke-width="0.8" fill="none"/>
<path d="M174.3 174.3V301.7M0 174.3H174.3" stroke="#ffff2a" stroke-opacity="0.30" stroke-width="0.6" fill="none"/>
<path d="M112.7 112.7V301.7M0 112.7H112.7" stroke="#ffa800" stroke-opacity="0.08" stroke-width="0.6" fill="none"/>
<path d="M229.3 229.3V301.7M0 229.3H229.3" stroke="#ffff2a" stroke-opacity="0.51" stroke-width="1.0" fill="none"/>
<path d="M283.1 283.1V301.7M0 283.1H283.1" stroke="#ffa800" stroke-opacity="0.11" stroke-width="0.8" fill="none"/>
<path d="M277.8 277.8V301.7M0 277.8H277.8" stroke="#ffff2a" stroke-opacity="0.53" stroke-width="0.8" fill="none"/>
<path d="M288.6 288.6V301.7M0 288.6H288.6" stroke="#ffff2a" stroke-opacity="0.28" stroke-width="0.5" fill="none"/>
<path d="M235.2 235.2V301.7M0 235.2H235.2" stroke="#ffff2a" stroke-opacity="0.32" stroke-width="1.0" fill="none"/>
<path d="M220.1 220.1V301.7M0 220.1H220.1" stroke="#ffff2a" stroke-opacity="0.38" stroke-width="0.8" fill="none"/>
<path d="M287.8 287.8V301.7M0 287.8H287.8" stroke="#ffff2a" stroke-opacity="0.24" stroke-width="0.6" fill="none"/>
<path d="M110.8 110.8V301.7M0 110.8H110.8" stroke="#ffff2a" stroke-opacity="0.35" stroke-width="0.5" fill="none"/>
<path d="M26.2 26.2V301.7M0 26.2H26.2" stroke="#ffff2a" stroke-opacity="0.33" stroke-width="1.0" fill="none"/>
<path d="M156.1 156.1V301.7M0 156.1H156.1" stroke="#ffff2a" stroke-opacity="0.52" stroke-width="0.5" fill="none"/>
<path d="M238.7 238.7V301.7M0 238.7H238.7" stroke="#ffff2a" stroke-opacity="0.32" stroke-width="0.6" fill="none"/>
<path d="M40.5 40.5V301.7M0 40.5H40.5" stroke="#ffff2a" stroke-opacity="0.23" stroke-width="0.8" fill="none"/>
<path d="M279.2 279.2V301.7M0 279.2H279.2" stroke="#ffff2a" stroke-opacity="0.45" stroke-width="0.6" fill="none"/>
<path d="M71.9 71.9V301.7M0 71.9H71.9" stroke="#ffff2a" stroke-opacity="0.37" stroke-width="1.0" fill="none"/>
<path d="M200.7 200.7V301.7M0 200.7H200.7" stroke="#ffff2a" stroke-opacity="0.28" stroke-width="0.6" fill="none"/>
<path d="M156.2 156.2V301.7M0 156.2H156.2" stroke="#ffff2a" stroke-opacity="0.45" stroke-width="1.0" fill="none"/>
<path d="M12.4 12.4V301.7M0 12.4H12.4" stroke="#ffff2a" stroke-opacity="0.37" stroke-width="0.8" fill="none"/>
<path d="M154.8 154.8V301.7M0 154.8H154.8" stroke="#ffa800" stroke-opacity="0.11" stroke-width="0.6" fill="none"/>
<path d="M155.9 155.9V301.7M0 155.9H155.9" stroke="#ffa800" stroke-opacity="0.06" stroke-width="0.6" fill="none"/>
<path d="M65.6 65.6V301.7M0 65.6H65.6" stroke="#ffff2a" stroke-opacity="0.53" stroke-width="0.8" fill="none"/>
<path d="M102.0 102.0V301.7M0 102.0H102.0" stroke="#ffff2a" stroke-opacity="0.47" stroke-width="1.0" fill="none"/>
<path d="M6.0 6.0V301.7M0 6.0H6.0" stroke="#ffa800" stroke-opacity="0.07" stroke-width="1.0" fill="none"/>
<path d="M164.7 164.7V301.7M0 164.7H164.7" stroke="#ffff2a" stroke-opacity="0.36" stroke-width="0.5" fill="none"/>
<path d="M291.5 291.5V301.7M0 291.5H291.5" stroke="#ffff2a" stroke-opacity="0.23" stroke-width="0.6" fill="none"/>
<path d="M289.1 289.1V301.7M0 289.1H289.1" stroke="#ffff2a" stroke-opacity="0.40" stroke-width="0.5" fill="none"/>
<path d="M193.8 193.8V301.7M0 193.8H193.8" stroke="#ffff2a" stroke-opacity="0.34" stroke-width="0.8" fill="none"/>
<path d="M226.5 226.5V301.7M0 226.5H226.5" stroke="#ffff2a" stroke-opacity="0.42" stroke-width="0.5" fill="none"/>
<path d="M243.0 243.0V301.7M0 243.0H243.0" stroke="#ffff2a" stroke-opacity="0.48" stroke-width="1.0" fill="none"/>
<path d="M90.9 90.9V301.7M0 90.9H90.9" stroke="#ffff2a" stroke-opacity="0.26" stroke-width="0.5" fill="none"/>
<path d="M61.6 61.6V301.7M0 61.6H61.6" stroke="#ffff2a" stroke-opacity="0.35" stroke-width="0.8" fill="none"/>
<path d="M293.9 293.9V301.7M0 293.9H293.9" stroke="#ffa800" stroke-opacity="0.06" stroke-width="0.5" fill="none"/>
<path d="M212.4 212.4V301.7M0 212.4H212.4" stroke="#ffff2a" stroke-opacity="0.21" stroke-width="0.5" fill="none"/>
<path d="M278.7 278.7V301.7M0 278.7H278.7" stroke="#ffa800" stroke-opacity="0.11" stroke-width="1.0" fill="none"/>
<path d="M76.4 76.4V301.7M0 76.4H76.4" stroke="#ffff2a" stroke-opacity="0.40" stroke-width="0.5" fill="none"/>
<path d="M159.4 159.4V301.7M0 159.4H159.4" stroke="#ffff2a" stroke-opacity="0.55" stroke-width="0.8" fill="none"/>
<path d="M223.2 223.2V301.7M0 223.2H223.2" stroke="#ffff2a" stroke-opacity="0.21" stroke-width="0.6" fill="none"/>
<path d="M191.8 191.8V301.7M0 191.8H191.8" stroke="#ffff2a" stroke-opacity="0.34" stroke-width="0.8" fill="none"/>
<path d="M285.6 285.6V301.7M0 285.6H285.6" stroke="#ffff2a" stroke-opacity="0.44" stroke-width="0.5" fill="none"/>
<path d="M152.7 152.7V301.7M0 152.7H152.7" stroke="#ffff2a" stroke-opacity="0.40" stroke-width="0.5" fill="none"/>
<path d="M255.9 255.9V301.7M0 255.9H255.9" stroke="#ffff2a" stroke-opacity="0.25" stroke-width="0.5" fill="none"/>
<path d="M232.6 232.6V301.7M0 232.6H232.6" stroke="#ffff2a" stroke-opacity="0.38" stroke-width="0.6" fill="none"/>
<path d="M242.0 242.0V301.7M0 242.0H242.0" stroke="#ffff2a" stroke-opacity="0.53" stroke-width="0.6" fill="none"/>
<path d="M83.9 83.9V301.7M0 83.9H83.9" stroke="#ffff2a" stroke-opacity="0.36" stroke-width="0.5" fill="none"/>
<path d="M195.3 195.3V301.7M0 195.3H195.3" stroke="#ffa800" stroke-opacity="0.10" stroke-width="0.5" fill="none"/>
<path d="M154.7 154.7V301.7M0 154.7H154.7" stroke="#ffff2a" stroke-opacity="0.23" stroke-width="0.6" fill="none"/>
<path d="M69.8 69.8V301.7M0 69.8H69.8" stroke="#ffff2a" stroke-opacity="0.35" stroke-width="0.6" fill="none"/>
<path d="M10.5 10.5V301.7M0 10.5H10.5" stroke="#ffff2a" stroke-opacity="0.51" stroke-width="1.0" fill="none"/>
<path d="M210.4 210.4V301.7M0 210.4H210.4" stroke="#ffa800" stroke-opacity="0.08" stroke-width="0.6" fill="none"/>
<path d="M220.0 220.0V301.7M0 220.0H220.0" stroke="#ffff2a" stroke-opacity="0.44" stroke-width="0.6" fill="none"/>
<path d="M139.9 139.9V301.7M0 139.9H139.9" stroke="#ffff2a" stroke-opacity="0.32" stroke-width="1.0" fill="none"/>
<path d="M248.7 248.7V301.7M0 248.7H248.7" stroke="#ffa800" stroke-opacity="0.06" stroke-width="0.8" fill="none"/>
<path d="M63.4 63.4V301.7M0 63.4H63.4" stroke="#ffff2a" stroke-opacity="0.46" stroke-width="0.5" fill="none"/>
<path d="M100.9 100.9V301.7M0 100.9H100.9" stroke="#ffa800" stroke-opacity="0.11" stroke-width="0.6" fill="none"/>
<path d="M197.9 197.9V301.7M0 197.9H197.9" stroke="#ffff2a" stroke-opacity="0.46" stroke-width="0.5" fill="none"/>
<path d="M172.7 172.7V301.7M0 172.7H172.7" stroke="#ffff2a" stroke-opacity="0.42" stroke-width="0.6" fill="none"/>
<path d="M20.2 20.2V301.7M0 20.2H20.2" stroke="#ffff2a" stroke-opacity="0.33" stroke-width="0.6" fill="none"/>
<path d="M118.0 118.0V301.7M0 118.0H118.0" stroke="#ffff2a" stroke-opacity="0.30" stroke-width="1.0" fill="none"/>
<path d="M183.8 183.8V301.7M0 183.8H183.8" stroke="#ffff2a" stroke-opacity="0.45" stroke-width="1.0" fill="none"/>
<path d="M119.2 119.2V301.7M0 119.2H119.2" stroke="#ffff2a" stroke-opacity="0.24" stroke-width="1.0" fill="none"/>
<path d="M11.1 11.1V301.7M0 11.1H11.1" stroke="#ffff2a" stroke-opacity="0.22" stroke-width="0.5" fill="none"/>
<path d="M214.1 214.1V301.7M0 214.1H214.1" stroke="#ffff2a" stroke-opacity="0.52" stroke-width="1.0" fill="none"/>
<path d="M274.1 274.1V301.7M0 274.1H274.1" stroke="#ffa800" stroke-opacity="0.07" stroke-width="0.6" fill="none"/>
<path d="M76.9 76.9V301.7M0 76.9H76.9" stroke="#ffff2a" stroke-opacity="0.24" stroke-width="1.0" fill="none"/>
<path d="M56.2 56.2V301.7M0 56.2H56.2" stroke="#ffff2a" stroke-opacity="0.41" stroke-width="0.8" fill="none"/>
<path d="M297.2 297.2V301.7M0 297.2H297.2" stroke="#ffa800" stroke-opacity="0.14" stroke-width="1.0" fill="none"/>
<path d="M128.1 128.1V301.7M0 128.1H128.1" stroke="#ffff2a" stroke-opacity="0.48" stroke-width="0.6" fill="none"/>
<path d="M200.8 200.8V301.7M0 200.8H200.8" stroke="#ffa800" stroke-opacity="0.13" stroke-width="1.0" fill="none"/>
<path d="M230.7 230.7V301.7M0 230.7H230.7" stroke="#ffff2a" stroke-opacity="0.41" stroke-width="0.6" fill="none"/>
<path d="M127.0 127.0V301.7M0 127.0H127.0" stroke="#ffff2a" stroke-opacity="0.45" stroke-width="0.6" fill="none"/>
<path d="M301.5 301.5V301.7M0 301.5H301.5" stroke="#ffff2a" stroke-opacity="0.28" stroke-width="0.6" fill="none"/>
<path d="M269.5 269.5V301.7M0 269.5H269.5" stroke="#ffff2a" stroke-opacity="0.48" stroke-width="0.5" fill="none"/>
<path d="M54.8 54.8V301.7M0 54.8H54.8" stroke="#ffa800" stroke-opacity="0.12" stroke-width="0.8" fill="none"/>
<path d="M19.7 19.7V301.7M0 19.7H19.7" stroke="#ffff2a" stroke-opacity="0.34" stroke-width="0.5" fill="none"/>
<path d="M188.0 188.0V301.7M0 188.0H188.0" stroke="#ffa800" stroke-opacity="0.09" stroke-width="0.8" fill="none"/>
<path d="M97.2 97.2V301.7M0 97.2H97.2" stroke="#ffff2a" stroke-opacity="0.31" stroke-width="0.6" fill="none"/>
<path d="M186.6 186.6V301.7M0 186.6H186.6" stroke="#ffff2a" stroke-opacity="0.41" stroke-width="0.8" fill="none"/>
<path d="M83.2 83.2V301.7M0 83.2H83.2" stroke="#ffff2a" stroke-opacity="0.45" stroke-width="0.6" fill="none"/>
<path d="M64.2 64.2V301.7M0 64.2H64.2" stroke="#ffff2a" stroke-opacity="0.36" stroke-width="0.6" fill="none"/>
<path d="M264.4 264.4V301.7M0 264.4H264.4" stroke="#ffff2a" stroke-opacity="0.49" stroke-width="0.8" fill="none"/>
<path d="M92.0 92.0V301.7M0 92.0H92.0" stroke="#ffa800" stroke-opacity="0.06" stroke-width="1.0" fill="none"/>
<path d="M110.2 110.2V301.7M0 110.2H110.2" stroke="#ffff2a" stroke-opacity="0.52" stroke-width="0.5" fill="none"/>
<path d="M75.6 75.6V301.7M0 75.6H75.6" stroke="#ffff2a" stroke-opacity="0.33" stroke-width="0.8" fill="none"/>
<path d="M81.9 81.9V301.7M0 81.9H81.9" stroke="#ffff2a" stroke-opacity="0.52" stroke-width="0.6" fill="none"/>
<path d="M301.3 301.3V301.7M0 301.3H301.3" stroke="#ffff2a" stroke-opacity="0.41" stroke-width="1.0" fill="none"/>
<path d="M41.4 41.4V301.7M0 41.4H41.4" stroke="#ffa800" stroke-opacity="0.12" stroke-width="0.8" fill="none"/>
<path d="M80.0 80.0V301.7M0 80.0H80.0" stroke="#ffff2a" stroke-opacity="0.54" stroke-width="1.0" fill="none"/>
<path d="M27.6 27.6V301.7M0 27.6H27.6" stroke="#ffa800" stroke-opacity="0.10" stroke-width="0.5" fill="none"/>
<path d="M98.6 98.6V301.7M0 98.6H98.6" stroke="#ffa800" stroke-opacity="0.12" stroke-width="0.6" fill="none"/>
<path d="M237.5 237.5V301.7M0 237.5H237.5" stroke="#ffff2a" stroke-opacity="0.51" stroke-width="0.5" fill="none"/>
<path d="M197.3 197.3V301.7M0 197.3H197.3" stroke="#ffff2a" stroke-opacity="0.21" stroke-width="0.5" fill="none"/>
<path d="M170.9 170.9V301.7M0 170.9H170.9" stroke="#ffa800" stroke-opacity="0.10" stroke-width="0.5" fill="none"/>
<path d="M129.6 129.6V301.7M0 129.6H129.6" stroke="#ffff2a" stroke-opacity="0.39" stroke-width="0.6" fill="none"/>
<path d="M243.3 243.3V301.7M0 243.3H243.3" stroke="#ffff2a" stroke-opacity="0.54" stroke-width="1.0" fill="none"/>
<path d="M77.3 77.3V301.7M0 77.3H77.3" stroke="#ffff2a" stroke-opacity="0.47" stroke-width="0.5" fill="none"/>
<path d="M236.0 236.0V301.7M0 236.0H236.0" stroke="#ffa800" stroke-opacity="0.12" stroke-width="0.8" fill="none"/>
<path d="M287.2 287.2V301.7M0 287.2H287.2" stroke="#ffff2a" stroke-opacity="0.30" stroke-width="0.8" fill="none"/>
<path d="M26.2 26.2V301.7M0 26.2H26.2" stroke="#ffff2a" stroke-opacity="0.33" stroke-width="0.5" fill="none"/>
<path d="M173.3 173.3V301.7M0 173.3H173.3" stroke="#ffff2a" stroke-opacity="0.29" stroke-width="1.0" fill="none"/>
<path d="M188.7 188.7V301.7M0 188.7H188.7" stroke="#ffff2a" stroke-opacity="0.51" stroke-width="0.8" fill="none"/>
<path d="M33.4 33.4V301.7M0 33.4H33.4" stroke="#ffff2a" stroke-opacity="0.33" stroke-width="0.6" fill="none"/>
<path d="M155.1 155.1V301.7M0 155.1H155.1" stroke="#ffff2a" stroke-opacity="0.45" stroke-width="0.6" fill="none"/>
<path d="M269.7 269.7V301.7M0 269.7H269.7" stroke="#ffff2a" stroke-opacity="0.33" stroke-width="1.0" fill="none"/>
<path d="M26.0 26.0V301.7M0 26.0H26.0" stroke="#ffa800" stroke-opacity="0.05" stroke-width="0.8" fill="none"/>
<path d="M18.1 18.1V301.7M0 18.1H18.1" stroke="#ffff2a" stroke-opacity="0.30" stroke-width="0.6" fill="none"/>
<path d="M256.8 256.8V301.7M0 256.8H256.8" stroke="#ffff2a" stroke-opacity="0.26" stroke-width="0.5" fill="none"/>
<path d="M269.1 269.1V301.7M0 269.1H269.1" stroke="#ffff2a" stroke-opacity="0.30" stroke-width="0.6" fill="none"/>
<path d="M53.0 53.0V301.7M0 53.0H53.0" stroke="#ffff2a" stroke-opacity="0.34" stroke-width="1.0" fill="none"/>
<path d="M38.3 38.3V301.7M0 38.3H38.3" stroke="#ffff2a" stroke-opacity="0.31" stroke-width="1.0" fill="none"/>
<path d="M72.4 72.4V301.7M0 72.4H72.4" stroke="#ffa800" stroke-opacity="0.06" stroke-width="0.8" fill="none"/>
<path d="M99.5 99.5V301.7M0 99.5H99.5" stroke="#ffa800" stroke-opacity="0.13" stroke-width="1.0" fill="none"/>
<path d="M230.9 230.9V301.7M0 230.9H230.9" stroke="#ffff2a" stroke-opacity="0.41" stroke-width="0.5" fill="none"/>
<path d="M45.8 45.8V301.7M0 45.8H45.8" stroke="#ffff2a" stroke-opacity="0.34" stroke-width="0.8" fill="none"/>
<path d="M162.4 162.4V301.7M0 162.4H162.4" stroke="#ffff2a" stroke-opacity="0.53" stroke-width="0.5" fill="none"/>
<path d="M127.2 127.2V301.7M0 127.2H127.2" stroke="#ffff2a" stroke-opacity="0.25" stroke-width="0.8" fill="none"/>
<path d="M229.8 229.8V301.7M0 229.8H229.8" stroke="#ffff2a" stroke-opacity="0.32" stroke-width="0.5" fill="none"/>
<path d="M46.4 46.4V301.7M0 46.4H46.4" stroke="#ffff2a" stroke-opacity="0.48" stroke-width="1.0" fill="none"/>
<path d="M102.5 102.5V301.7M0 102.5H102.5" stroke="#ffa800" stroke-opacity="0.06" stroke-width="0.8" fill="none"/>
<path d="M94.9 94.9V301.7M0 94.9H94.9" stroke="#ffff2a" stroke-opacity="0.44" stroke-width="0.5" fill="none"/>
<path d="M121.8 121.8V301.7M0 121.8H121.8" stroke="#ffa800" stroke-opacity="0.10" stroke-width="0.8" fill="none"/>
<path d="M109.4 109.4V301.7M0 109.4H109.4" stroke="#ffff2a" stroke-opacity="0.22" stroke-width="0.8" fill="none"/>
<path d="M261.9 261.9V301.7M0 261.9H261.9" stroke="#ffff2a" stroke-opacity="0.43" stroke-width="0.5" fill="none"/>
<path d="M129.9 129.9V301.7M0 129.9H129.9" stroke="#ffa800" stroke-opacity="0.10" stroke-width="0.5" fill="none"/>
<path d="M167.1 167.1V301.7M0 167.1H167.1" stroke="#ffff2a" stroke-opacity="0.40" stroke-width="0.6" fill="none"/>
<path d="M35.8 35.8V301.7M0 35.8H35.8" stroke="#f9ed0c" stroke-opacity="0.85" stroke-width="2.4" fill="none"/>
<path d="M111.5 111.5V301.7M0 111.5H111.5" stroke="#f9ed0c" stroke-opacity="0.85" stroke-width="2.6" fill="none"/>
<path d="M17.5 17.5V301.7M0 17.5H17.5" stroke="#f9ed0c" stroke-opacity="0.85" stroke-width="1.2" fill="none"/>
<path d="M128.0 128.0V301.7M0 128.0H128.0" stroke="#f9ed0c" stroke-opacity="0.85" stroke-width="3.0" fill="none"/>
<path d="M164.2 164.2V301.7M0 164.2H164.2" stroke="#f9ed0c" stroke-opacity="0.85" stroke-width="1.6" fill="none"/>
<path d="M42.0 42.0V301.7M0 42.0H42.0" stroke="#f9ed0c" stroke-opacity="0.85" stroke-width="1.8" fill="none"/>
</g></g>
<rect x="18.2" y="264.2" width="301.7" height="22.7" fill="#000"/>
<path d="M39.5 264.0H43.9L52.2 286.3H52.2ZM45.0 264.0H52.6L52.5 286.3H52.5ZM53.2 264.0H55.3L52.9 286.3H52.9ZM56.6 264.0H58.6L53.7 286.3H53.7ZM60.5 264.0H62.7L54.6 286.3H54.6ZM64.2 264.0H67.4L55.5 286.3H55.5ZM70.0 264.0H73.2L56.5 286.3H56.5ZM75.3 264.0H78.5L57.5 286.3H57.5ZM105.4 264.0H106.3L100.4 286.3H100.4ZM113.7 264.0H126.6L111.0 286.3H111.0ZM135.4 264.0H147.8L129.0 286.3H129.0ZM150.2 264.0H151.6L138.5 286.3H138.5ZM157.6 264.0H159.6L143.6 286.3H143.6ZM165.4 264.0H167.6L151.4 286.3H151.4ZM175.8 264.0H176.8L164.5 286.3H164.5ZM204.0 264.0H212.3L197.4 286.3H197.4ZM224.4 264.0H225.5L220.3 286.3H220.3ZM244.4 264.0H245.2L243.6 286.3H243.6ZM250.3 264.0H251.1L248.7 286.3H248.7ZM253.0 264.0H253.9L251.0 286.3H251.0ZM265.4 264.0H270.6L266.6 286.3H266.6ZM272.4 264.0H296.0L270.4 286.3H270.4ZM301.0 264.0H302.3L292.0 286.3H292.0Z" fill="#fff"/>
<path d="M270.6 286.6L279.8 264M270.9 286.6L283.4 264M271.2 286.6L287.2 264" stroke="#000" stroke-width="0.7" fill="none"/>
<path d="M33.4 264.2L39.8 279M35.8 264.2L40.6 277" stroke="#fff" stroke-opacity="0.55" stroke-width="0.5" fill="none"/>
<path d="M17.6 287.2H20M143.6 287.2H146" stroke="#2233dd" stroke-width="1.2"/>
<text transform="translate(19.3 231.2) rotate(90)" font-size="6.25" fill="#4a34ad">X5860121</text>
<text transform="translate(167.3 231.2) rotate(90)" font-size="6.25" fill="#4a34ad">X5985067</text>
<rect x="195.3" y="446.8" width="133.3" height="12.9" fill="url(#key)" stroke="#777" stroke-width="0.4"/>
<text x="263.4" y="441.5" text-anchor="middle" font-size="6.4" fill="#222">R² Color key</text>
<text x="195.3" y="468.6" text-anchor="middle" font-size="6.5" fill="#222">0</text>
<text x="222.0" y="468.6" text-anchor="middle" font-size="6.5" fill="#222">0.2</text>
<text x="248.6" y="468.6" text-anchor="middle" font-size="6.5" fill="#222">0.4</text>
<text x="275.3" y="468.6" text-anchor="middle" font-size="6.5" fill="#222">0.6</text>
<text x="301.9" y="468.6" text-anchor="middle" font-size="6.5" fill="#222">0.8</text>
<text x="328.6" y="468.6" text-anchor="middle" font-size="6.5" fill="#222">1</text>
<path d="M195.3 459.7v1.6M222.0 459.7v1.6M248.6 459.7v1.6M275.3 459.7v1.6M301.9 459.7v1.6M328.6 459.7v1.6" stroke="#555" stroke-width="0.4"/>
</g>
<g id="panelD" font-weight="bold">
<rect x="344.2" y="189.6" width="336" height="255.8" fill="#fff" stroke="#e06a72" stroke-width="0.9"/>
<path d="M398.0 406.3H662.5M398.0 371.6H662.5M398.0 336.9H662.5M398.0 302.1H662.5M398.0 267.4H662.5M398.0 232.7H662.5M464.0 229.8V409.0M596.1 229.8V409.0" stroke="#e9e9e9" stroke-width="0.8" fill="none"/>
<rect x="398.0" y="229.8" width="264.5" height="179.2" fill="none" stroke="#d3151e" stroke-width="1.8"/>
<path d="M394.8 406.3H398.0M394.8 371.6H398.0M394.8 336.9H398.0M394.8 302.1H398.0M394.8 267.4H398.0M394.8 232.7H398.0M464.0 409.0v2.6M596.1 409.0v2.6" stroke="#d0202a" stroke-width="1" fill="none"/>
<path d="M464.0 241.6V348.9M448.7 241.6H479.3M448.7 348.9H479.3M596.1 334.2V397.5M580.8 334.2H611.4M580.8 397.5H611.4" stroke="#2b30f2" stroke-width="1.4" fill="none"/>
<path d="M464.0 295.5L596.1 366.3" stroke="#d8202a" stroke-width="1" stroke-dasharray="2 1.1"/>
<rect x="460.6" y="292.1" width="6.8" height="6.8" fill="#cc0f14"/>
<rect x="592.7" y="362.9" width="6.8" height="6.8" fill="#cc0f14"/>
<text x="470.0" y="299.4" font-size="10.8" fill="#341b8a">120.951</text>
<text x="602.1" y="370.2" font-size="10.8" fill="#341b8a">110.759</text>
<text x="511.9" y="207.2" text-anchor="middle" font-size="13" fill="#341b8a">Interval Plot of GTOT vs Haplotype</text>
<text x="512.9" y="219.6" text-anchor="middle" font-size="11.3" fill="#341b8a">95% CI for the Mean</text>
<text x="392.2" y="410.3" text-anchor="end" font-size="11" fill="#341b8a">105</text>
<text x="392.2" y="375.6" text-anchor="end" font-size="11" fill="#341b8a">110</text>
<text x="392.2" y="340.9" text-anchor="end" font-size="11" fill="#341b8a">115</text>
<text x="392.2" y="306.1" text-anchor="end" font-size="11" fill="#341b8a">120</text>
<text x="392.2" y="271.4" text-anchor="end" font-size="11" fill="#341b8a">125</text>
<text x="392.2" y="236.7" text-anchor="end" font-size="11" fill="#341b8a">130</text>
<text x="464.0" y="423" text-anchor="middle" font-size="11.1" fill="#341b8a">Haplotype-A</text>
<text x="596.1" y="423" text-anchor="middle" font-size="11.1" fill="#341b8a">Haplotype-B</text>
<text transform="translate(366.6 319.5) rotate(-90)" text-anchor="middle" font-size="10.9" fill="#341b8a">GTOT</text>
<text x="353.4" y="440.4" font-size="9.6" font-style="italic" fill="#cf141c" textLength="284.6" lengthAdjust="spacingAndGlyphs">The pooled standard deviation is used to calculate the intervals.</text>
</g>
</svg>
<div class="lbl" id="lA">(A)</div>
<div class="lbl" id="lB">(B)</div>
<div class="lbl" id="lC">(C)</div>
<div class="lbl" id="lD">(D)</div>
<table>
<colgroup><col style="width:79px"><col style="width:42px"><col style="width:43px"><col style="width:43.5px"><col style="width:43.5px"><col style="width:44.5px"><col style="width:66.5px"></colgroup>
<tr style="height:34.5px"><td class="h"><span style="font-size:12.2px;transform:scaleX(1.16);position:relative;left:-2px;top:2px">Position</span></td><td class="n">5989735</td><td class="n">5989741</td><td class="n">5989747</td><td class="n">5989802</td><td class="n">5989802</td><td class="h"><span style="font-size:10.6px;transform:scaleX(1.1);position:relative;top:2px">Phenotype</span></td></tr>
<tr style="height:23px" class="r2"><td class="h">Amino acid</td><td>Q/K</td><td>I/V</td><td>V/I</td><td>T/M</td><td>G/Q</td><td></td></tr>
<tr style="height:24.5px" class="r2 r3"><td class="h">Haplotype A</td><td>A</td><td>G</td><td>A</td><td>C</td><td>A</td><td>120.95</td></tr>
<tr style="height:26.5px" class="r3"><td class="h">Haplotype B</td><td>C</td><td>A</td><td>G</td><td>C</td><td>G</td><td>110.76</td></tr>
</table>
</body>
</html>
